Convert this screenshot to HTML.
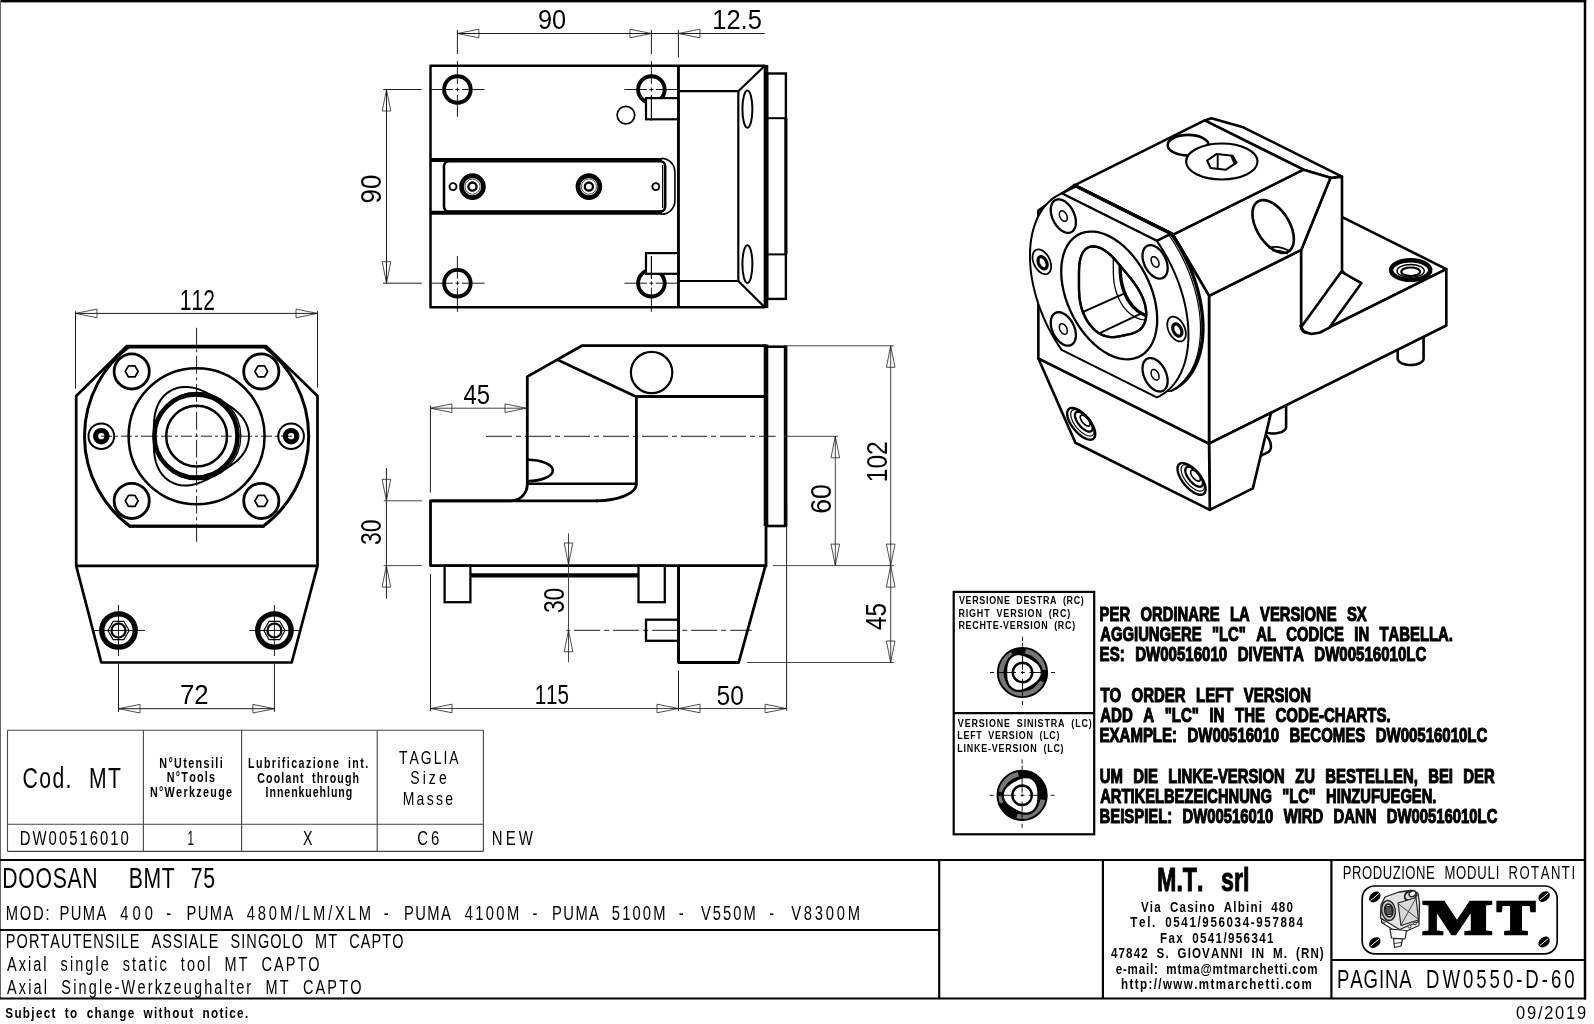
<!DOCTYPE html>
<html><head><meta charset="utf-8"><title>DW0550-D-60</title>
<style>html,body{margin:0;padding:0;background:#fff;overflow:hidden}svg{display:block}text{font-kerning:none}</style></head>
<body><svg width="1594" height="1024" viewBox="0 0 1594 1024" stroke-linecap="butt">
<rect width="1594" height="1024" fill="#fff"/>
<g opacity="0.999">
<rect x="0" y="0" width="1586.2" height="2.4" fill="#000"/>
<line x1="0.5" y1="0" x2="0.5" y2="999" stroke="#666" stroke-width="1" />
<line x1="1585" y1="0" x2="1585" y2="999.6" stroke="#000" stroke-width="2.5" />
<line x1="0" y1="860" x2="1586" y2="860" stroke="#000" stroke-width="2.2" />
<line x1="0" y1="930" x2="939" y2="930" stroke="#000" stroke-width="2.2" />
<line x1="0" y1="998.5" x2="1586" y2="998.5" stroke="#000" stroke-width="2.2" />
<line x1="939.2" y1="860" x2="939.2" y2="998.5" stroke="#000" stroke-width="2.2" />
<line x1="1102.9" y1="860" x2="1102.9" y2="998.5" stroke="#000" stroke-width="2.2" />
<line x1="1331.4" y1="860" x2="1331.4" y2="998.5" stroke="#000" stroke-width="2.2" />
<line x1="1331.4" y1="960" x2="1585" y2="960" stroke="#000" stroke-width="2.2" />
<line x1="7.5" y1="730.3" x2="7.5" y2="851.4" stroke="#444" stroke-width="1.1" />
<line x1="143.4" y1="730.3" x2="143.4" y2="851.4" stroke="#444" stroke-width="1.1" />
<line x1="241.6" y1="730.3" x2="241.6" y2="851.4" stroke="#444" stroke-width="1.1" />
<line x1="377.2" y1="730.3" x2="377.2" y2="851.4" stroke="#444" stroke-width="1.1" />
<line x1="483.4" y1="730.3" x2="483.4" y2="851.4" stroke="#444" stroke-width="1.1" />
<line x1="7.5" y1="730.3" x2="483.4" y2="730.3" stroke="#444" stroke-width="1.1" />
<line x1="7.5" y1="824.3" x2="483.4" y2="824.3" stroke="#444" stroke-width="1.1" />
<line x1="7.5" y1="851.4" x2="483.4" y2="851.4" stroke="#444" stroke-width="1.1" />
<text transform="translate(22.42 787.5) scale(0.7400 1)" font-family="'Liberation Sans', sans-serif" font-size="28.63" letter-spacing="1.95" word-spacing="11.74" fill="#000" xml:space="preserve">Cod. MT</text>
<text transform="translate(159.28 767.8) scale(0.7600 1)" font-family="'Liberation Sans', sans-serif" font-size="14.24" font-weight="bold" letter-spacing="1.79" word-spacing="4.27" fill="#000" xml:space="preserve">N°Utensili</text>
<text transform="translate(166.78 782.4) scale(0.7600 1)" font-family="'Liberation Sans', sans-serif" font-size="14.24" font-weight="bold" letter-spacing="1.59" word-spacing="4.27" fill="#000" xml:space="preserve">N°Tools</text>
<text transform="translate(149.88 797) scale(0.7600 1)" font-family="'Liberation Sans', sans-serif" font-size="14.24" font-weight="bold" letter-spacing="1.72" word-spacing="4.27" fill="#000" xml:space="preserve">N°Werkzeuge</text>
<text transform="translate(248.09 768.3) scale(0.7600 1)" font-family="'Liberation Sans', sans-serif" font-size="13.95" font-weight="bold" letter-spacing="1.92" word-spacing="4.19" fill="#000" xml:space="preserve">Lubrificazione int.</text>
<text transform="translate(257.27 782.8) scale(0.7600 1)" font-family="'Liberation Sans', sans-serif" font-size="13.95" font-weight="bold" letter-spacing="1.52" word-spacing="4.19" fill="#000" xml:space="preserve">Coolant through</text>
<text transform="translate(265.59 797) scale(0.7600 1)" font-family="'Liberation Sans', sans-serif" font-size="13.95" font-weight="bold" letter-spacing="1.24" word-spacing="4.19" fill="#000" xml:space="preserve">Innenkuehlung</text>
<text transform="translate(398.89 763.6) scale(0.7400 1)" font-family="'Liberation Sans', sans-serif" font-size="18.9" letter-spacing="2.73" word-spacing="7.75" fill="#000" xml:space="preserve">TAGLIA</text>
<text transform="translate(410.27 784.3) scale(0.7400 1)" font-family="'Liberation Sans', sans-serif" font-size="18.9" letter-spacing="4.17" word-spacing="7.75" fill="#000" xml:space="preserve">Size</text>
<text transform="translate(402.65 804.5) scale(0.7400 1)" font-family="'Liberation Sans', sans-serif" font-size="18.9" letter-spacing="3.14" word-spacing="7.75" fill="#000" xml:space="preserve">Masse</text>
<text transform="translate(19.77 845.3) scale(0.7400 1)" font-family="'Liberation Sans', sans-serif" font-size="20.2" letter-spacing="2.67" word-spacing="8.28" fill="#000" xml:space="preserve">DW00516010</text>
<text transform="translate(187.62 845.3) scale(0.5740 1)" font-family="'Liberation Sans', sans-serif" font-size="20.2" letter-spacing="0" word-spacing="8.28" fill="#000" xml:space="preserve">1</text>
<text transform="translate(302.88 845.3) scale(0.7065 1)" font-family="'Liberation Sans', sans-serif" font-size="20.2" letter-spacing="0" word-spacing="8.28" fill="#000" xml:space="preserve">X</text>
<text transform="translate(417.34 845.3) scale(0.7400 1)" font-family="'Liberation Sans', sans-serif" font-size="20.2" letter-spacing="3.79" word-spacing="8.28" fill="#000" xml:space="preserve">C6</text>
<text transform="translate(491.77 845.3) scale(0.7400 1)" font-family="'Liberation Sans', sans-serif" font-size="20.2" letter-spacing="4.26" word-spacing="8.28" fill="#000" xml:space="preserve">NEW</text>
<text transform="translate(2.36 887.5) scale(0.7400 1)" font-family="'Liberation Sans', sans-serif" font-size="28.63" letter-spacing="0.92" word-spacing="11.74" fill="#000" xml:space="preserve">DOOSAN  BMT 75</text>
<text transform="translate(0 919.9) scale(0.7000 1)" font-family="'Liberation Sans', sans-serif" font-size="21.08" fill="#000"><tspan x="8.13" letter-spacing="2.59">MOD:</tspan> <tspan x="84.99" letter-spacing="2.01">PUMA</tspan> <tspan x="171.8" letter-spacing="5.79">400</tspan> <tspan x="237.63" letter-spacing="0">-</tspan> <tspan x="266.41" letter-spacing="2.01">PUMA</tspan> <tspan x="352.52" letter-spacing="4.06">480M/LM/XLM</tspan> <tspan x="548.35" letter-spacing="0">-</tspan> <tspan x="577.13" letter-spacing="2.06">PUMA</tspan> <tspan x="663.8" letter-spacing="3.37">4100M</tspan> <tspan x="760.78" letter-spacing="0">-</tspan> <tspan x="788.7" letter-spacing="2.01">PUMA</tspan> <tspan x="874.01" letter-spacing="3.07">5100M</tspan> <tspan x="969.78" letter-spacing="0">-</tspan> <tspan x="1001.34" letter-spacing="2.9">V550M</tspan> <tspan x="1099.06" letter-spacing="0">-</tspan> <tspan x="1130.34" letter-spacing="3.98">V8300M</tspan></text>
<text transform="translate(5.81 948.1) scale(0.7400 1)" font-family="'Liberation Sans', sans-serif" font-size="19.62" letter-spacing="1.43" word-spacing="8.05" fill="#000" xml:space="preserve">PORTAUTENSILE ASSIALE SINGOLO MT CAPTO</text>
<text transform="translate(6.97 971.3) scale(0.7400 1)" font-family="'Liberation Sans', sans-serif" font-size="19.62" letter-spacing="2.75" word-spacing="8.05" fill="#000" xml:space="preserve">Axial single static tool MT CAPTO</text>
<text transform="translate(6.97 994.2) scale(0.7400 1)" font-family="'Liberation Sans', sans-serif" font-size="19.62" letter-spacing="2.91" word-spacing="8.05" fill="#000" xml:space="preserve">Axial Single-Werkzeughalter MT CAPTO</text>
<text transform="translate(5.26 1018.3) scale(0.7600 1)" font-family="'Liberation Sans', sans-serif" font-size="15.41" font-weight="bold" letter-spacing="1.74" word-spacing="4.62" fill="#000" xml:space="preserve">Subject to change without notice.</text>
<text transform="translate(1516.06 1019.3) scale(0.8600 1)" font-family="'Liberation Sans', sans-serif" font-size="19.19" letter-spacing="2.03" word-spacing="7.87" fill="#000" xml:space="preserve">09/2019</text>
<text transform="translate(1157.04 891) scale(0.6900 1)" font-family="'Liberation Sans', sans-serif" font-size="33.72" font-weight="bold" letter-spacing="0" word-spacing="15.88" fill="#000" stroke="#000" stroke-width="1" xml:space="preserve">M.T. srl</text>
<text transform="translate(1140.92 911.8) scale(0.7600 1)" font-family="'Liberation Sans', sans-serif" font-size="15.26" font-weight="bold" letter-spacing="1.6" word-spacing="4.58" fill="#000" xml:space="preserve">Via Casino Albini 480</text>
<text transform="translate(1130.37 927) scale(0.7600 1)" font-family="'Liberation Sans', sans-serif" font-size="15.26" font-weight="bold" letter-spacing="2.14" word-spacing="4.58" fill="#000" xml:space="preserve">Tel. 0541/956034-957884</text>
<text transform="translate(1160.12 942.7) scale(0.7600 1)" font-family="'Liberation Sans', sans-serif" font-size="15.26" font-weight="bold" letter-spacing="1.78" word-spacing="4.58" fill="#000" xml:space="preserve">Fax 0541/956341</text>
<text transform="translate(1111.02 958.1) scale(0.7600 1)" font-family="'Liberation Sans', sans-serif" font-size="15.26" font-weight="bold" letter-spacing="1.45" word-spacing="4.58" fill="#000" xml:space="preserve">47842 S. GIOVANNI IN M. (RN)</text>
<text transform="translate(1115.65 973.9) scale(0.7600 1)" font-family="'Liberation Sans', sans-serif" font-size="15.26" font-weight="bold" letter-spacing="1.08" word-spacing="4.58" fill="#000" xml:space="preserve">e-mail: mtma@mtmarchetti.com</text>
<text transform="translate(1120.89 989) scale(0.7600 1)" font-family="'Liberation Sans', sans-serif" font-size="15.26" font-weight="bold" letter-spacing="1.85" word-spacing="4.58" fill="#000" xml:space="preserve">http://www.mtmarchetti.com</text>
<text transform="translate(0 879) scale(0.7400 1)" font-family="'Liberation Sans', sans-serif" font-size="17.73" fill="#000"><tspan x="1814.63" letter-spacing="0.67">PRODUZIONE</tspan> <tspan x="1951.92" letter-spacing="1.07">MODULI</tspan> <tspan x="2038.41" letter-spacing="2.05">ROTANTI</tspan></text>
<text transform="translate(0 988.2) scale(0.7400 1)" font-family="'Liberation Sans', sans-serif" font-size="25.15" fill="#000"><tspan x="1806.86" letter-spacing="1.15">PAGINA</tspan> <tspan x="1927.13" letter-spacing="4">DW0550-D-60</tspan></text>
<rect x="767.2" y="73.5" width="18.7" height="225.4" rx="0" fill="#fff" stroke="#000" stroke-width="2.4"/>
<line x1="785.9" y1="118" x2="785.9" y2="254.5" stroke="#000" stroke-width="3" />
<line x1="767" y1="118.2" x2="786" y2="118.2" stroke="#000" stroke-width="2" />
<line x1="767" y1="254.4" x2="786" y2="254.4" stroke="#000" stroke-width="2" />
<path d="M430.5,65.7 L764.9,65.7 L764.9,307.2 L430.5,307.2 Z" fill="#fff" stroke="#000" stroke-width="2.5" stroke-linejoin="round" />
<line x1="766.3" y1="65" x2="766.3" y2="308" stroke="#000" stroke-width="4" />
<line x1="678.4" y1="65.7" x2="678.4" y2="307.2" stroke="#000" stroke-width="2.5" />
<line x1="764.7" y1="65.7" x2="738.3" y2="91.2" stroke="#000" stroke-width="2.2" />
<line x1="764.7" y1="307.2" x2="738.3" y2="281" stroke="#000" stroke-width="2.2" />
<line x1="678.4" y1="91.2" x2="738.3" y2="91.2" stroke="#000" stroke-width="2.2" />
<line x1="678.4" y1="281" x2="738.3" y2="281" stroke="#000" stroke-width="2.2" />
<line x1="738.3" y1="91.2" x2="738.3" y2="281" stroke="#000" stroke-width="2.2" />
<ellipse cx="747.4" cy="109.1" rx="5" ry="18.6" fill="none" stroke="#000" stroke-width="2" />
<ellipse cx="747.4" cy="264.1" rx="5" ry="18.8" fill="none" stroke="#000" stroke-width="2" />
<line x1="430.5" y1="160" x2="662" y2="160" stroke="#000" stroke-width="4" />
<line x1="430.5" y1="212.8" x2="662" y2="212.8" stroke="#000" stroke-width="4" />
<path d="M661.4,158.4 A13.5,13.5 0 0 1 674.9,172 L674.9,200.8 A13.5,13.5 0 0 1 661.4,214.3" fill="none" stroke="#000" stroke-width="1.6" stroke-linejoin="round" />
<rect x="444" y="161.3" width="221.2" height="50.2" rx="5" fill="none" stroke="#000" stroke-width="2.6"/>
<line x1="662.6" y1="165" x2="662.6" y2="208" stroke="#000" stroke-width="1.2" />
<circle cx="472.5" cy="186.6" r="11" fill="#fff" stroke="#000" stroke-width="4.6" />
<circle cx="472.5" cy="186.6" r="7.6" fill="none" stroke="#000" stroke-width="0.7" />
<circle cx="472.5" cy="186.6" r="4.1" fill="none" stroke="#000" stroke-width="2.3" />
<circle cx="588.9" cy="186.6" r="11" fill="#fff" stroke="#000" stroke-width="4.6" />
<circle cx="588.9" cy="186.6" r="7.6" fill="none" stroke="#000" stroke-width="0.7" />
<circle cx="588.9" cy="186.6" r="4.1" fill="none" stroke="#000" stroke-width="2.3" />
<circle cx="453" cy="186.6" r="3.5" fill="none" stroke="#000" stroke-width="1.9" />
<circle cx="655.8" cy="186.6" r="3.5" fill="none" stroke="#000" stroke-width="1.9" />
<circle cx="457.4" cy="89.5" r="13.3" fill="none" stroke="#000" stroke-width="3.9" />
<circle cx="651.4" cy="89.5" r="13.3" fill="none" stroke="#000" stroke-width="3.9" />
<circle cx="457.4" cy="283.2" r="13.3" fill="none" stroke="#000" stroke-width="3.9" />
<circle cx="651.4" cy="283.2" r="13.3" fill="none" stroke="#000" stroke-width="3.9" />
<rect x="646" y="98.1" width="32.4" height="21.2" rx="0" fill="#fff" stroke="#000" stroke-width="2.2"/>
<rect x="646" y="253.1" width="32.4" height="20.7" rx="0" fill="#fff" stroke="#000" stroke-width="2.2"/>
<line x1="678.4" y1="65.7" x2="678.4" y2="307.2" stroke="#000" stroke-width="2.5" />
<circle cx="625.9" cy="115.1" r="8.8" fill="none" stroke="#000" stroke-width="1.7" />
<line x1="455.4" y1="89.5" x2="459.4" y2="89.5" stroke="#000" stroke-width="0.9" />
<line x1="457.4" y1="87.5" x2="457.4" y2="91.5" stroke="#000" stroke-width="0.9" />
<line x1="431.6" y1="89.5" x2="452.9" y2="89.5" stroke="#000" stroke-width="0.9" />
<line x1="461.9" y1="89.5" x2="484.6" y2="89.5" stroke="#000" stroke-width="0.9" />
<line x1="457.4" y1="61" x2="457.4" y2="84" stroke="#000" stroke-width="0.9" />
<line x1="457.4" y1="95" x2="457.4" y2="116.7" stroke="#000" stroke-width="0.9" />
<line x1="649.4" y1="89.5" x2="653.4" y2="89.5" stroke="#000" stroke-width="0.9" />
<line x1="651.4" y1="87.5" x2="651.4" y2="91.5" stroke="#000" stroke-width="0.9" />
<line x1="624.4" y1="89.5" x2="646.9" y2="89.5" stroke="#000" stroke-width="0.9" />
<line x1="655.9" y1="89.5" x2="678.6" y2="89.5" stroke="#000" stroke-width="0.9" />
<line x1="651.4" y1="61" x2="651.4" y2="84" stroke="#000" stroke-width="0.9" />
<line x1="651.4" y1="95" x2="651.4" y2="120.5" stroke="#000" stroke-width="0.9" />
<line x1="455.4" y1="283.2" x2="459.4" y2="283.2" stroke="#000" stroke-width="0.9" />
<line x1="457.4" y1="281.2" x2="457.4" y2="285.2" stroke="#000" stroke-width="0.9" />
<line x1="431.6" y1="283.2" x2="452.9" y2="283.2" stroke="#000" stroke-width="0.9" />
<line x1="461.9" y1="283.2" x2="484.6" y2="283.2" stroke="#000" stroke-width="0.9" />
<line x1="457.4" y1="256" x2="457.4" y2="278.7" stroke="#000" stroke-width="0.9" />
<line x1="457.4" y1="287.7" x2="457.4" y2="311.8" stroke="#000" stroke-width="0.9" />
<line x1="649.4" y1="283.2" x2="653.4" y2="283.2" stroke="#000" stroke-width="0.9" />
<line x1="651.4" y1="281.2" x2="651.4" y2="285.2" stroke="#000" stroke-width="0.9" />
<line x1="624.4" y1="283.2" x2="646.9" y2="283.2" stroke="#000" stroke-width="0.9" />
<line x1="655.9" y1="283.2" x2="678.6" y2="283.2" stroke="#000" stroke-width="0.9" />
<line x1="651.4" y1="256" x2="651.4" y2="278.7" stroke="#000" stroke-width="0.9" />
<line x1="651.4" y1="287.7" x2="651.4" y2="311.8" stroke="#000" stroke-width="0.9" />
<line x1="651.4" y1="96" x2="651.4" y2="120.5" stroke="#000" stroke-width="0.9" />
<line x1="651.4" y1="256" x2="651.4" y2="278.7" stroke="#000" stroke-width="0.9" />
<line x1="457.4" y1="33.5" x2="764.7" y2="33.5" stroke="#000" stroke-width="0.9" />
<line x1="457.4" y1="30" x2="457.4" y2="54" stroke="#000" stroke-width="0.9" />
<line x1="651.4" y1="30" x2="651.4" y2="54" stroke="#000" stroke-width="0.9" />
<line x1="678.4" y1="30" x2="678.4" y2="57.5" stroke="#000" stroke-width="0.9" />
<path d="M457.4,33.5 L478.9,29.2 L478.9,37.8 Z" fill="none" stroke="#222" stroke-width="0.8" stroke-linejoin="round" />
<path d="M651.4,33.5 L629.9,29.2 L629.9,37.8 Z" fill="none" stroke="#222" stroke-width="0.8" stroke-linejoin="round" />
<path d="M678.4,33.5 L699.9,29.2 L699.9,37.8 Z" fill="none" stroke="#222" stroke-width="0.8" stroke-linejoin="round" />
<text transform="translate(538.01 28.9) scale(0.8938 1)" font-family="'Liberation Sans', sans-serif" font-size="28.34" letter-spacing="0" word-spacing="11.62" fill="#000" xml:space="preserve">90</text>
<text transform="translate(712.26 28.8) scale(0.8994 1)" font-family="'Liberation Sans', sans-serif" font-size="28.34" letter-spacing="0" word-spacing="11.62" fill="#000" xml:space="preserve">12.5</text>
<line x1="386.5" y1="89.5" x2="386.5" y2="283.2" stroke="#000" stroke-width="0.9" />
<line x1="383.3" y1="89.5" x2="421.8" y2="89.5" stroke="#000" stroke-width="0.9" />
<line x1="383" y1="283.2" x2="421.8" y2="283.2" stroke="#000" stroke-width="0.9" />
<path d="M386.5,89.5 L382.2,111 L390.8,111 Z" fill="none" stroke="#222" stroke-width="0.8" stroke-linejoin="round" />
<path d="M386.5,283.2 L382.2,261.7 L390.8,261.7 Z" fill="none" stroke="#222" stroke-width="0.8" stroke-linejoin="round" />
<text transform="translate(381.1 202.3) rotate(-90) translate(-1.21 0) scale(0.8915 1)" font-family="'Liberation Sans', sans-serif" font-size="29.07" letter-spacing="0" word-spacing="11.92" fill="#000" xml:space="preserve">90</text>
<path d="M126.4,346.4 L266.5,346.4 L317.5,396 L317.5,565.8 L291.7,662.5 L101.3,662.5 L76.2,565.8 L76.2,396 Z" fill="#fff" stroke="#000" stroke-width="2.7" stroke-linejoin="round" />
<line x1="76.2" y1="565.8" x2="317.5" y2="565.8" stroke="#000" stroke-width="2.7" />
<line x1="126.4" y1="346.6" x2="266.5" y2="346.6" stroke="#000" stroke-width="3.6" />
<path d="M263.7,346.4 L129.5,346.4 A112,112 0 0 0 129.9,526.2 L263.3,526.2 A112,112 0 0 0 263.7,346.4" fill="none" stroke="#000" stroke-width="3" stroke-linejoin="round" />
<line x1="128.6" y1="526.2" x2="264.8" y2="526.2" stroke="#000" stroke-width="2.8" />
<circle cx="196.6" cy="436.2" r="68" fill="none" stroke="#000" stroke-width="2.5" />
<path d="M249,436.2 L248.77,439.85 L248.08,443.43 L246.96,446.9 L245.44,450.21 L243.58,453.3 L241.44,456.16 L239.07,458.78 L236.54,461.16 L233.91,463.31 L231.23,465.25 L228.53,467.03 L225.85,468.69 L223.21,470.25 L220.59,471.77 L218,473.27 L215.41,474.76 L212.79,476.27 L210.11,477.78 L207.34,479.27 L204.45,480.71 L201.42,482.06 L198.24,483.27 L194.92,484.27 L191.47,485.01 L187.92,485.44 L184.31,485.5 L180.69,485.16 L177.13,484.4 L173.68,483.2 L170.4,481.58 L167.36,479.55 L164.59,477.16 L162.15,474.46 L160.05,471.5 L158.3,468.34 L156.89,465.05 L155.81,461.69 L155.01,458.31 L154.47,454.96 L154.13,451.66 L153.93,448.44 L153.84,445.29 L153.81,442.21 L153.8,439.19 L153.8,436.2 L153.8,433.21 L153.81,430.19 L153.84,427.11 L153.93,423.96 L154.13,420.74 L154.47,417.44 L155.01,414.09 L155.81,410.71 L156.89,407.35 L158.3,404.06 L160.05,400.9 L162.15,397.94 L164.59,395.24 L167.36,392.85 L170.4,390.82 L173.68,389.2 L177.13,388 L180.69,387.24 L184.31,386.9 L187.92,386.96 L191.47,387.39 L194.92,388.13 L198.24,389.13 L201.42,390.34 L204.45,391.69 L207.34,393.13 L210.11,394.62 L212.79,396.13 L215.41,397.64 L218,399.13 L220.59,400.63 L223.21,402.15 L225.85,403.71 L228.53,405.37 L231.23,407.15 L233.91,409.09 L236.54,411.24 L239.07,413.62 L241.44,416.24 L243.58,419.1 L245.44,422.19 L246.96,425.5 L248.08,428.97 L248.77,432.55 L249,436.2 Z" fill="none" stroke="#000" stroke-width="2" stroke-linejoin="round" />
<circle cx="196" cy="436" r="41.6" fill="none" stroke="#000" stroke-width="4.6" />
<circle cx="197.2" cy="436.1" r="43.6" fill="none" stroke="#000" stroke-width="1.3" />
<circle cx="196.6" cy="436.2" r="30.4" fill="none" stroke="#000" stroke-width="2.5" />
<circle cx="131.7" cy="371.4" r="17.6" fill="none" stroke="#000" stroke-width="2.8" />
<path d="M138.1,371.4 L134.9,376.94 L128.5,376.94 L125.3,371.4 L128.5,365.86 L134.9,365.86 Z" fill="none" stroke="#000" stroke-width="1.8" stroke-linejoin="round" />
<circle cx="261.3" cy="371.4" r="17.6" fill="none" stroke="#000" stroke-width="2.8" />
<path d="M267.7,371.4 L264.5,376.94 L258.1,376.94 L254.9,371.4 L258.1,365.86 L264.5,365.86 Z" fill="none" stroke="#000" stroke-width="1.8" stroke-linejoin="round" />
<circle cx="131.7" cy="500.9" r="17.6" fill="none" stroke="#000" stroke-width="2.8" />
<path d="M138.1,500.9 L134.9,506.44 L128.5,506.44 L125.3,500.9 L128.5,495.36 L134.9,495.36 Z" fill="none" stroke="#000" stroke-width="1.8" stroke-linejoin="round" />
<circle cx="261.3" cy="500.9" r="17.6" fill="none" stroke="#000" stroke-width="2.8" />
<path d="M267.7,500.9 L264.5,506.44 L258.1,506.44 L254.9,500.9 L258.1,495.36 L264.5,495.36 Z" fill="none" stroke="#000" stroke-width="1.8" stroke-linejoin="round" />
<circle cx="101.3" cy="436.2" r="12.8" fill="none" stroke="#000" stroke-width="2" />
<circle cx="101.3" cy="436.2" r="5.7" fill="none" stroke="#000" stroke-width="5.2" />
<circle cx="291.1" cy="436.2" r="12.8" fill="none" stroke="#000" stroke-width="2" />
<circle cx="291.1" cy="436.2" r="5.7" fill="none" stroke="#000" stroke-width="5.2" />
<circle cx="118.5" cy="630.5" r="16.7" fill="none" stroke="#000" stroke-width="5.3" />
<path d="M129.1,630.5 L123.8,639.68 L113.2,639.68 L107.9,630.5 L113.2,621.32 L123.8,621.32 Z" fill="none" stroke="#000" stroke-width="1.2" stroke-linejoin="round" />
<circle cx="118.5" cy="630.5" r="7" fill="none" stroke="#000" stroke-width="2.2" />
<line x1="93.4" y1="630.5" x2="144.9" y2="630.5" stroke="#000" stroke-width="0.9" />
<line x1="118.5" y1="605" x2="118.5" y2="656" stroke="#000" stroke-width="0.9" />
<circle cx="274.4" cy="630.5" r="16.7" fill="none" stroke="#000" stroke-width="5.3" />
<path d="M285,630.5 L279.7,639.68 L269.1,639.68 L263.8,630.5 L269.1,621.32 L279.7,621.32 Z" fill="none" stroke="#000" stroke-width="1.2" stroke-linejoin="round" />
<circle cx="274.4" cy="630.5" r="7" fill="none" stroke="#000" stroke-width="2.2" />
<line x1="249.3" y1="630.5" x2="300.8" y2="630.5" stroke="#000" stroke-width="0.9" />
<line x1="274.4" y1="605" x2="274.4" y2="656" stroke="#000" stroke-width="0.9" />
<line x1="196.6" y1="327.8" x2="196.6" y2="544.4" stroke="#000" stroke-width="0.9" stroke-dasharray="18 3.5 3 3.5" stroke-dashoffset="0"/>
<line x1="98" y1="436.2" x2="294" y2="436.2" stroke="#000" stroke-width="0.9" stroke-dasharray="11 3 3 3" stroke-dashoffset="-3"/>
<line x1="75.5" y1="313.4" x2="317.5" y2="313.4" stroke="#000" stroke-width="0.9" />
<line x1="75.5" y1="311.3" x2="75.5" y2="388.6" stroke="#000" stroke-width="0.9" />
<line x1="317.5" y1="311.3" x2="317.5" y2="387.6" stroke="#000" stroke-width="0.9" />
<path d="M75.5,313.4 L97,309.1 L97,317.7 Z" fill="none" stroke="#222" stroke-width="0.8" stroke-linejoin="round" />
<path d="M317.5,313.4 L296,309.1 L296,317.7 Z" fill="none" stroke="#222" stroke-width="0.8" stroke-linejoin="round" />
<text transform="translate(179.69 309.9) scale(0.7179 1)" font-family="'Liberation Sans', sans-serif" font-size="29.36" letter-spacing="0" word-spacing="12.04" fill="#000" xml:space="preserve">112</text>
<line x1="118.5" y1="708.7" x2="274.4" y2="708.7" stroke="#000" stroke-width="0.9" />
<line x1="118.5" y1="663.9" x2="118.5" y2="711.9" stroke="#000" stroke-width="0.9" />
<line x1="274.4" y1="663.9" x2="274.4" y2="711.9" stroke="#000" stroke-width="0.9" />
<path d="M118.5,708.7 L140,704.4 L140,713 Z" fill="none" stroke="#222" stroke-width="0.8" stroke-linejoin="round" />
<path d="M274.4,708.7 L252.9,704.4 L252.9,713 Z" fill="none" stroke="#222" stroke-width="0.8" stroke-linejoin="round" />
<text transform="translate(179.98 704.4) scale(0.9123 1)" font-family="'Liberation Sans', sans-serif" font-size="28.2" letter-spacing="0" word-spacing="11.56" fill="#000" xml:space="preserve">72</text>
<line x1="766" y1="346.7" x2="786" y2="346.7" stroke="#000" stroke-width="2.6" />
<line x1="766" y1="526" x2="786.8" y2="526" stroke="#000" stroke-width="2.6" />
<line x1="785.6" y1="345.5" x2="785.6" y2="527" stroke="#000" stroke-width="3.6" />
<rect x="444.6" y="565.6" width="25.8" height="36.6" rx="0" fill="#fff" stroke="#000" stroke-width="2.3"/>
<rect x="638.5" y="565.6" width="26.3" height="36.6" rx="0" fill="#fff" stroke="#000" stroke-width="2.3"/>
<line x1="470.4" y1="575.4" x2="638.5" y2="575.4" stroke="#000" stroke-width="4.2" />
<path d="M678.5,565.6 L678.5,662.5 L738.7,662.5 L765.5,565.6" fill="none" stroke="#000" stroke-width="2.8" stroke-linejoin="round" />
<rect x="646" y="619.7" width="32.5" height="21.1" rx="0" fill="#fff" stroke="#000" stroke-width="2.3"/>
<line x1="678.5" y1="565.6" x2="678.5" y2="662.5" stroke="#000" stroke-width="2.8" />
<path d="M511,500.8 L430.5,500.8 L430.5,565.6 L765.8,565.6" fill="none" stroke="#000" stroke-width="2.8" stroke-linejoin="round" />
<line x1="430.5" y1="500.8" x2="598" y2="500.8" stroke="#000" stroke-width="2.8" />
<path d="M511,500.8 A16.3,16.3 0 0 0 527.3,484.5" fill="none" stroke="#000" stroke-width="2.8" stroke-linejoin="round" />
<path d="M527.3,484.7 L527.3,376.6 L581.8,345.7 L766,345.7" fill="none" stroke="#000" stroke-width="2.8" stroke-linejoin="round" />
<line x1="557.9" y1="359.9" x2="635.8" y2="396.4" stroke="#000" stroke-width="2.8" />
<line x1="635.5" y1="396.4" x2="766" y2="396.4" stroke="#000" stroke-width="3" />
<line x1="636.4" y1="396.4" x2="636.4" y2="484.4" stroke="#000" stroke-width="2.8" />
<path d="M636.4,484 A40.2,16.8 0 0 1 596.2,500.8" fill="none" stroke="#000" stroke-width="2.8" stroke-linejoin="round" />
<line x1="527.3" y1="483.8" x2="636.4" y2="483.8" stroke="#000" stroke-width="2.4" />
<path d="M527.3,459.7 A25.4,10.7 0 0 1 527.3,481.2" fill="none" stroke="#000" stroke-width="2.6" stroke-linejoin="round" />
<circle cx="651.6" cy="372.5" r="20.7" fill="none" stroke="#000" stroke-width="2.2" />
<line x1="766" y1="344.5" x2="766" y2="526" stroke="#000" stroke-width="4.6" />
<line x1="766" y1="526" x2="766" y2="566.8" stroke="#000" stroke-width="2.8" />
<line x1="486" y1="436.3" x2="775.6" y2="436.3" stroke="#000" stroke-width="0.9" stroke-dasharray="26 4 5 4" stroke-dashoffset="0"/>
<line x1="566.2" y1="630.3" x2="751.8" y2="630.3" stroke="#000" stroke-width="0.9" stroke-dasharray="26 4 5 4" stroke-dashoffset="-8"/>
<line x1="430.4" y1="408.2" x2="527.3" y2="408.2" stroke="#333" stroke-width="0.9" />
<line x1="430.4" y1="405.6" x2="430.4" y2="492.6" stroke="#000" stroke-width="0.9" />
<path d="M430.4,408.2 L451.9,403.9 L451.9,412.5 Z" fill="none" stroke="#222" stroke-width="0.8" stroke-linejoin="round" />
<path d="M526.5,408.2 L505,403.9 L505,412.5 Z" fill="none" stroke="#222" stroke-width="0.8" stroke-linejoin="round" />
<text transform="translate(463.45 403.8) scale(0.8509 1)" font-family="'Liberation Sans', sans-serif" font-size="28.05" letter-spacing="0" word-spacing="11.5" fill="#000" xml:space="preserve">45</text>
<line x1="386.4" y1="468" x2="386.4" y2="598.7" stroke="#000" stroke-width="0.9" />
<line x1="383.7" y1="500.8" x2="422" y2="500.8" stroke="#333" stroke-width="0.9" />
<line x1="383.7" y1="565.6" x2="422" y2="565.6" stroke="#333" stroke-width="0.9" />
<path d="M386.4,500.8 L382.1,479.3 L390.7,479.3 Z" fill="none" stroke="#222" stroke-width="0.8" stroke-linejoin="round" />
<path d="M386.4,565.6 L382.1,587.1 L390.7,587.1 Z" fill="none" stroke="#222" stroke-width="0.8" stroke-linejoin="round" />
<text transform="translate(381.3 544.2) rotate(-90) translate(-0.88 0) scale(0.7792 1)" font-family="'Liberation Sans', sans-serif" font-size="29.51" letter-spacing="0" word-spacing="12.1" fill="#000" xml:space="preserve">30</text>
<line x1="568.5" y1="533.3" x2="568.5" y2="662.3" stroke="#333" stroke-width="0.9" />
<path d="M568.5,564.5 L564.2,543 L572.8,543 Z" fill="none" stroke="#222" stroke-width="0.8" stroke-linejoin="round" />
<path d="M568.5,630.3 L564.2,651.8 L572.8,651.8 Z" fill="none" stroke="#222" stroke-width="0.8" stroke-linejoin="round" />
<text transform="translate(563.6 612.2) rotate(-90) translate(-0.87 0) scale(0.7727 1)" font-family="'Liberation Sans', sans-serif" font-size="29.51" letter-spacing="0" word-spacing="12.1" fill="#000" xml:space="preserve">30</text>
<line x1="835.3" y1="436.3" x2="835.3" y2="565.6" stroke="#333" stroke-width="0.9" />
<line x1="784" y1="436.3" x2="838" y2="436.3" stroke="#333" stroke-width="0.9" />
<path d="M835.3,436.3 L831,457.8 L839.6,457.8 Z" fill="none" stroke="#222" stroke-width="0.8" stroke-linejoin="round" />
<path d="M835.3,565.6 L831,544.1 L839.6,544.1 Z" fill="none" stroke="#222" stroke-width="0.8" stroke-linejoin="round" />
<text transform="translate(830.6 512.5) rotate(-90) translate(-1.35 0) scale(0.9016 1)" font-family="'Liberation Sans', sans-serif" font-size="29.51" letter-spacing="0" word-spacing="12.1" fill="#000" xml:space="preserve">60</text>
<line x1="890.7" y1="345.8" x2="890.7" y2="662.5" stroke="#333" stroke-width="0.9" />
<line x1="786" y1="345.8" x2="893.9" y2="345.8" stroke="#333" stroke-width="0.9" />
<line x1="773" y1="565.6" x2="893.9" y2="565.6" stroke="#333" stroke-width="0.9" />
<line x1="746.9" y1="662.5" x2="893.9" y2="662.5" stroke="#333" stroke-width="0.9" />
<path d="M890.7,345.8 L886.4,367.3 L895,367.3 Z" fill="none" stroke="#222" stroke-width="0.8" stroke-linejoin="round" />
<path d="M890.7,565.6 L886.4,544.1 L895,544.1 Z" fill="none" stroke="#222" stroke-width="0.8" stroke-linejoin="round" />
<path d="M890.7,565.6 L886.4,587.1 L895,587.1 Z" fill="none" stroke="#222" stroke-width="0.8" stroke-linejoin="round" />
<path d="M890.7,662.5 L886.4,641 L895,641 Z" fill="none" stroke="#222" stroke-width="0.8" stroke-linejoin="round" />
<text transform="translate(886.8 480.3) rotate(-90) translate(-1.87 0) scale(0.8227 1)" font-family="'Liberation Sans', sans-serif" font-size="29.8" letter-spacing="0" word-spacing="12.22" fill="#000" xml:space="preserve">102</text>
<text transform="translate(886 629.4) rotate(-90) translate(-0.56 0) scale(0.8219 1)" font-family="'Liberation Sans', sans-serif" font-size="29.51" letter-spacing="0" word-spacing="12.1" fill="#000" xml:space="preserve">45</text>
<line x1="430.5" y1="708.5" x2="786.6" y2="708.5" stroke="#333" stroke-width="0.9" />
<line x1="430.5" y1="574" x2="430.5" y2="710.8" stroke="#000" stroke-width="0.9" />
<line x1="678.5" y1="670.4" x2="678.5" y2="710.8" stroke="#000" stroke-width="0.9" />
<line x1="786.6" y1="503.7" x2="786.6" y2="710.8" stroke="#000" stroke-width="0.9" />
<path d="M430.5,708.5 L452,704.2 L452,712.8 Z" fill="none" stroke="#222" stroke-width="0.8" stroke-linejoin="round" />
<path d="M678.5,708.5 L657,704.2 L657,712.8 Z" fill="none" stroke="#222" stroke-width="0.8" stroke-linejoin="round" />
<path d="M678.5,708.5 L700,704.2 L700,712.8 Z" fill="none" stroke="#222" stroke-width="0.8" stroke-linejoin="round" />
<path d="M786.6,708.5 L765.1,704.2 L765.1,712.8 Z" fill="none" stroke="#222" stroke-width="0.8" stroke-linejoin="round" />
<text transform="translate(534.63 703.5) scale(0.7396 1)" font-family="'Liberation Sans', sans-serif" font-size="27.91" letter-spacing="0" word-spacing="11.44" fill="#000" xml:space="preserve">115</text>
<text transform="translate(716.62 704.5) scale(0.8764 1)" font-family="'Liberation Sans', sans-serif" font-size="28.05" letter-spacing="0" word-spacing="11.5" fill="#000" xml:space="preserve">50</text>
<path d="M1397.71,326.54 L1397.76,325.98 L1397.91,325.42 L1398.15,324.87 L1398.49,324.34 L1398.93,323.82 L1399.45,323.32 L1400.06,322.84 L1400.74,322.4 L1401.51,321.98 L1402.34,321.6 L1403.24,321.26 L1404.19,320.96 L1405.19,320.7 L1406.23,320.48 L1407.31,320.31 L1408.41,320.19 L1409.53,320.12 L1410.66,320.1 L1411.79,320.12 L1412.91,320.19 L1414.01,320.32 L1415.08,320.49 L1416.13,320.7 L1417.13,320.96 L1418.08,321.27 L1418.97,321.61 L1419.81,321.99 L1420.57,322.4 L1421.26,322.85 L1421.86,323.33 L1422.38,323.83 L1422.81,324.35 L1423.15,324.88 L1423.4,325.43 L1423.54,325.99 L1423.59,326.55 L1423.59,358.53 L1423.54,359.09 L1423.39,359.65 L1423.15,360.2 L1422.81,360.74 L1422.37,361.26 L1421.85,361.76 L1421.25,362.23 L1420.56,362.68 L1419.79,363.09 L1418.96,363.47 L1418.07,363.81 L1417.11,364.12 L1416.11,364.38 L1415.07,364.59 L1413.99,364.76 L1412.89,364.88 L1411.77,364.95 L1410.64,364.98 L1409.51,364.95 L1408.4,364.88 L1407.29,364.76 L1406.22,364.59 L1405.17,364.37 L1404.17,364.11 L1403.22,363.81 L1402.33,363.47 L1401.49,363.09 L1400.73,362.67 L1400.05,362.22 L1399.44,361.75 L1398.92,361.25 L1398.49,360.73 L1398.15,360.19 L1397.91,359.64 L1397.76,359.08 L1397.71,358.52 Z" fill="#fff" stroke="#000" stroke-width="2.6" stroke-linejoin="round" />
<path d="M1260.22,395.02 L1260.27,394.46 L1260.42,393.9 L1260.66,393.35 L1261,392.81 L1261.43,392.29 L1261.96,391.79 L1262.56,391.32 L1263.25,390.87 L1264.01,390.46 L1264.85,390.08 L1265.74,389.74 L1266.7,389.43 L1267.7,389.17 L1268.74,388.96 L1269.82,388.79 L1270.92,388.67 L1272.04,388.6 L1273.17,388.57 L1274.29,388.6 L1275.41,388.67 L1276.52,388.79 L1277.59,388.96 L1278.63,389.18 L1279.64,389.44 L1280.59,389.74 L1281.48,390.08 L1282.31,390.47 L1283.08,390.88 L1283.76,391.33 L1284.37,391.8 L1284.89,392.3 L1285.32,392.82 L1285.66,393.36 L1285.9,393.91 L1286.05,394.47 L1286.1,395.03 L1286.1,427.01 L1286.05,427.57 L1285.9,428.13 L1285.65,428.68 L1285.31,429.21 L1284.88,429.73 L1284.36,430.23 L1283.75,430.71 L1283.07,431.15 L1282.3,431.57 L1281.47,431.95 L1280.57,432.29 L1279.62,432.59 L1278.62,432.85 L1277.58,433.07 L1276.5,433.24 L1275.4,433.36 L1274.28,433.43 L1273.15,433.46 L1272.02,433.43 L1270.9,433.36 L1269.8,433.23 L1268.72,433.06 L1267.68,432.85 L1266.68,432.59 L1265.73,432.29 L1264.83,431.94 L1264,431.56 L1263.24,431.15 L1262.55,430.7 L1261.95,430.22 L1261.43,429.73 L1261,429.21 L1260.66,428.67 L1260.41,428.12 L1260.27,427.56 L1260.22,427 Z" fill="#fff" stroke="#000" stroke-width="2.6" stroke-linejoin="round" />
<path d="M1233.05,450.3 L1233.08,449.51 L1233.17,448.76 L1233.31,448.04 L1233.5,447.37 L1233.75,446.76 L1234.05,446.19 L1234.4,445.69 L1234.8,445.25 L1235.24,444.88 L1235.72,444.57 L1258.61,433.17 L1259.13,432.94 L1259.68,432.78 L1260.25,432.7 L1260.86,432.69 L1261.48,432.76 L1262.11,432.91 L1262.76,433.12 L1263.41,433.41 L1264.06,433.77 L1264.71,434.2 L1265.34,434.69 L1265.96,435.24 L1266.57,435.85 L1267.14,436.51 L1267.69,437.22 L1268.21,437.97 L1268.69,438.75 L1269.13,439.56 L1269.53,440.4 L1269.88,441.25 L1270.18,442.11 L1270.43,442.98 L1270.62,443.85 L1270.76,444.7 L1270.85,445.54 L1270.88,446.36 L1270.85,447.15 L1270.76,447.9 L1270.62,448.62 L1270.43,449.29 L1270.18,449.9 L1269.88,450.47 L1269.53,450.97 L1269.13,451.41 L1268.69,451.78 L1268.21,452.09 L1245.32,463.49 L1244.8,463.72 L1244.25,463.88 L1243.68,463.96 L1243.07,463.97 L1242.45,463.9 L1241.82,463.75 L1241.17,463.54 L1240.52,463.25 L1239.87,462.89 L1239.22,462.46 L1238.59,461.97 L1237.97,461.42 L1237.36,460.81 L1236.79,460.15 L1236.24,459.44 L1235.72,458.69 L1235.24,457.91 L1234.8,457.1 L1234.4,456.26 L1234.05,455.41 L1233.75,454.55 L1233.5,453.68 L1233.31,452.81 L1233.17,451.96 L1233.08,451.12 Z" fill="#fff" stroke="#000" stroke-width="2.6" stroke-linejoin="round" />
<path d="M1129.92,256.41 L1300.6,341.65 L1446.34,269.07 L1275.65,183.83 Z" fill="#fff" stroke="#000" stroke-width="2.6" stroke-linejoin="round" />
<ellipse cx="1410.65" cy="270.12" rx="19.6" ry="9.8" fill="#fff" stroke="#000" stroke-width="4.4" />
<ellipse cx="1410.65" cy="270.92" rx="13.6" ry="6.4" fill="none" stroke="#000" stroke-width="1.4" />
<ellipse cx="1410.65" cy="271.72" rx="9.4" ry="4.2" fill="none" stroke="#000" stroke-width="2" />
<path d="M1209.04,443.68 L1446.34,325.5 L1446.34,269.07 L1328.53,327.74 L1323.79,329.88 L1319.19,331.53 L1314.87,332.62 L1310.97,333.14 L1307.6,333.05 L1304.87,332.37 L1302.86,331.12 L1301.63,329.32 L1301.21,327.05 L1301.21,249.93 L1209.04,295.83 Z" fill="#fff" stroke="#000" stroke-width="2.6" stroke-linejoin="round" />
<path d="M1340.9,271.6 L1361.5,283.1 L1329,327.9 L1320,332.5 L1311.4,334 L1304,331.5 L1300.5,326.1 Z" fill="#fff" stroke="#000" stroke-width="2.6" stroke-linejoin="round" />
<path d="M1342,269.5 Q1350,279.5 1361.5,283.1" fill="none" stroke="#000" stroke-width="1.2" stroke-linejoin="round" />
<path d="M1301.21,249.93 L1330.49,177.81 L1342.01,176.62 L1342.01,270.86 L1301.21,327.05 Z" fill="#fff" stroke="#000" stroke-width="2.6" stroke-linejoin="round" />
<path d="M1204.64,120.39 L1303.4,169.7 L1330.49,177.81 L1342.01,176.62 L1243.25,127.31 L1211.43,118.36 Z" fill="#fff" stroke="#000" stroke-width="2.6" stroke-linejoin="round" />
<path d="M1173.08,234.61 L1303.4,169.7 L1330.49,177.81 L1301.21,249.93 L1209.04,295.83 Z" fill="#fff" stroke="#000" stroke-width="2.6" stroke-linejoin="round" />
<path d="M1287.81,219.19 L1286.2,216.58 L1284.45,214.08 L1282.57,211.71 L1280.59,209.51 L1278.53,207.49 L1276.41,205.68 L1274.26,204.09 L1272.09,202.76 L1269.93,201.68 L1267.81,200.87 L1265.75,200.35 L1263.77,200.11 L1261.89,200.16 L1260.14,200.5 L1258.53,201.12 L1257.08,202.03 L1255.8,203.2 L1254.72,204.62 L1253.83,206.28 L1253.16,208.17 L1252.71,210.26 L1252.48,212.52 L1252.48,214.94 L1252.71,217.48 L1253.16,220.12 L1253.82,222.84 L1254.7,225.59 L1255.79,228.35 L1257.06,231.09 L1258.51,233.78 L1260.12,236.39 L1261.87,238.9 L1263.75,241.26 L1265.73,243.47 L1267.79,245.49 L1269.91,247.3 L1272.06,248.88 L1274.23,250.22 L1276.38,251.3 L1278.5,252.1 L1280.57,252.63 L1282.55,252.86 L1284.42,252.81 L1286.18,252.47 L1287.79,251.85 L1289.24,250.95 L1290.51,249.78 L1291.6,248.35 L1292.48,246.69 L1293.15,244.8 L1293.61,242.72 L1293.83,240.45 L1293.83,238.04 L1293.61,235.49 L1293.16,232.85 L1292.49,230.14 L1291.61,227.39 L1290.53,224.62 L1289.26,221.88 L1287.81,219.19 Z" fill="#fff" stroke="#000" stroke-width="2.6" stroke-linejoin="round" />
<path d="M1268.5,248 Q1278,244.5 1290.5,251.5" fill="none" stroke="#000" stroke-width="1.6" stroke-linejoin="round" />
<path d="M1272,251 Q1280,248.5 1288,254" fill="none" stroke="#000" stroke-width="1.1" stroke-linejoin="round" />
<path d="M1074.32,185.29 L1173.08,234.61 L1303.4,169.7 L1204.64,120.39 Z" fill="#fff" stroke="#000" stroke-width="2.6" stroke-linejoin="round" />
<ellipse cx="1188.14" cy="145.18" rx="20.4" ry="10.3" fill="#fff" stroke="#000" stroke-width="2.6" />
<ellipse cx="1221.82" cy="161.54" rx="35.7" ry="18" fill="#fff" stroke="#000" stroke-width="2.1" />
<path d="M1207.1,160.5 L1216.8,153.9 L1232.6,155.7 L1236.6,162.7 L1225.6,169.8 L1210.6,168 Z" fill="#fff" stroke="#000" stroke-width="2" stroke-linejoin="round" />
<line x1="1217.7" y1="154" x2="1217.7" y2="168.6" stroke="#000" stroke-width="1.9" />
<path d="M1232.6,155.7 L1236.6,162.7 L1234,163.9 L1231,156.3 Z" fill="#000" stroke="#000" stroke-width="1" stroke-linejoin="round" />
<path d="M1209.04,443.68 L1209.83,509.84 L1252.86,488.41 L1271,412.82 Z" fill="#fff" stroke="#000" stroke-width="2.6" stroke-linejoin="round" />
<path d="M1038.36,358.44 L1209.04,443.68 L1209.83,509.84 L1075.41,442.72 Z" fill="#fff" stroke="#000" stroke-width="2.6" stroke-linejoin="round" />
<path d="M1094.76,430.59 L1095.02,431.82 L1095.18,432.98 L1095.23,434.08 L1095.18,435.09 L1095.01,436.02 L1094.75,436.86 L1094.38,437.6 L1093.91,438.23 L1093.34,438.75 L1092.68,439.16 L1091.93,439.45 L1091.1,439.63 L1090.2,439.68 L1089.23,439.62 L1088.19,439.43 L1087.1,439.12 L1085.97,438.7 L1084.8,438.16 L1083.61,437.52 L1082.39,436.77 L1081.17,435.92 L1079.95,434.98 L1078.73,433.96 L1077.54,432.86 L1076.37,431.69 L1075.24,430.45 L1074.16,429.17 L1073.13,427.85 L1072.16,426.5 L1071.25,425.13 L1070.43,423.74 L1069.69,422.36 L1069.03,420.99 L1068.47,419.64 L1068,418.32 L1067.63,417.05 L1067.37,415.82 L1067.21,414.66 L1067.16,413.57 L1067.22,412.55 L1067.38,411.62 L1067.65,410.79 L1068.02,410.05 L1068.49,409.41 L1069.06,408.89 L1069.72,408.48 L1070.46,408.19 L1071.29,408.02 L1072.2,407.96 L1073.17,408.03 L1074.2,408.22 L1075.29,408.52 L1076.42,408.94 L1077.59,409.48 L1078.79,410.13 L1080,410.87 L1081.22,411.72 L1082.45,412.66 L1083.66,413.69 L1084.85,414.79 L1086.02,415.96 L1087.15,417.19 L1088.24,418.47 L1089.27,419.79 L1090.24,421.14 L1091.14,422.52 L1091.97,423.9 L1092.71,425.28 L1093.36,426.65 L1093.93,428 L1094.39,429.32 L1094.76,430.59 Z" fill="#fff" stroke="#000" stroke-width="2.4" stroke-linejoin="round" />
<path d="M1093.7,428.47 L1093.91,429.49 L1094.04,430.45 L1094.09,431.36 L1094.04,432.21 L1093.91,432.98 L1093.68,433.68 L1093.38,434.29 L1092.98,434.82 L1092.51,435.25 L1091.96,435.59 L1091.34,435.84 L1090.65,435.98 L1089.9,436.02 L1089.09,435.97 L1088.23,435.81 L1087.33,435.56 L1086.39,435.21 L1085.42,434.76 L1084.42,434.23 L1083.41,433.6 L1082.4,432.9 L1081.38,432.12 L1080.37,431.27 L1079.38,430.35 L1078.41,429.38 L1077.47,428.35 L1076.56,427.29 L1075.71,426.19 L1074.9,425.06 L1074.15,423.92 L1073.46,422.77 L1072.85,421.62 L1072.3,420.48 L1071.83,419.36 L1071.44,418.27 L1071.14,417.21 L1070.92,416.19 L1070.79,415.22 L1070.75,414.31 L1070.79,413.47 L1070.93,412.69 L1071.15,412 L1071.46,411.39 L1071.85,410.86 L1072.32,410.42 L1072.87,410.08 L1073.49,409.84 L1074.18,409.7 L1074.93,409.65 L1075.74,409.71 L1076.6,409.86 L1077.51,410.12 L1078.45,410.47 L1079.42,410.91 L1080.41,411.45 L1081.42,412.07 L1082.44,412.78 L1083.46,413.56 L1084.47,414.41 L1085.46,415.33 L1086.43,416.3 L1087.37,417.32 L1088.27,418.39 L1089.13,419.49 L1089.94,420.61 L1090.68,421.75 L1091.37,422.9 L1091.99,424.05 L1092.53,425.19 L1093,426.31 L1093.39,427.41 L1093.7,428.47 Z" fill="none" stroke="#000" stroke-width="1.2" stroke-linejoin="round" />
<path d="M1092.33,425.95 L1092.49,426.72 L1092.59,427.45 L1092.62,428.14 L1092.59,428.77 L1092.49,429.36 L1092.32,429.89 L1092.08,430.35 L1091.79,430.75 L1091.43,431.08 L1091.02,431.34 L1090.55,431.52 L1090.02,431.63 L1089.46,431.66 L1088.84,431.62 L1088.19,431.5 L1087.51,431.31 L1086.8,431.04 L1086.06,430.71 L1085.31,430.3 L1084.54,429.83 L1083.77,429.3 L1083.01,428.71 L1082.24,428.06 L1081.49,427.37 L1080.76,426.63 L1080.04,425.86 L1079.36,425.05 L1078.71,424.22 L1078.1,423.37 L1077.54,422.5 L1077.02,421.63 L1076.55,420.77 L1076.14,419.9 L1075.78,419.05 L1075.49,418.22 L1075.26,417.42 L1075.09,416.65 L1074.99,415.92 L1074.96,415.23 L1075,414.59 L1075.1,414.01 L1075.27,413.48 L1075.5,413.02 L1075.79,412.62 L1076.15,412.29 L1076.57,412.03 L1077.04,411.85 L1077.56,411.74 L1078.13,411.7 L1078.74,411.75 L1079.39,411.86 L1080.07,412.06 L1080.79,412.32 L1081.52,412.66 L1082.27,413.07 L1083.04,413.54 L1083.81,414.07 L1084.58,414.66 L1085.34,415.31 L1086.09,416 L1086.83,416.74 L1087.54,417.51 L1088.22,418.32 L1088.87,419.15 L1089.48,420 L1090.05,420.86 L1090.57,421.73 L1091.03,422.6 L1091.45,423.46 L1091.8,424.31 L1092.1,425.14 L1092.33,425.95 Z" fill="none" stroke="#000" stroke-width="2.3" stroke-linejoin="round" />
<path d="M1089.89,422.89 L1089.98,423.31 L1090.04,423.72 L1090.05,424.1 L1090.03,424.45 L1089.98,424.78 L1089.88,425.07 L1089.76,425.33 L1089.59,425.55 L1089.39,425.73 L1089.16,425.87 L1088.9,425.97 L1088.61,426.03 L1088.3,426.05 L1087.96,426.03 L1087.6,425.96 L1087.22,425.86 L1086.83,425.71 L1086.42,425.52 L1086,425.3 L1085.58,425.04 L1085.16,424.74 L1084.73,424.42 L1084.31,424.06 L1083.89,423.68 L1083.48,423.27 L1083.09,422.84 L1082.71,422.39 L1082.35,421.93 L1082.02,421.46 L1081.7,420.98 L1081.41,420.5 L1081.15,420.02 L1080.93,419.54 L1080.73,419.07 L1080.57,418.61 L1080.44,418.17 L1080.35,417.74 L1080.29,417.34 L1080.28,416.96 L1080.3,416.6 L1080.35,416.28 L1080.44,415.99 L1080.57,415.73 L1080.74,415.51 L1080.94,415.33 L1081.17,415.19 L1081.43,415.08 L1081.71,415.02 L1082.03,415 L1082.37,415.03 L1082.73,415.09 L1083.11,415.2 L1083.5,415.35 L1083.91,415.53 L1084.32,415.76 L1084.75,416.02 L1085.17,416.31 L1085.6,416.64 L1086.02,417 L1086.44,417.38 L1086.85,417.79 L1087.24,418.22 L1087.62,418.67 L1087.98,419.13 L1088.31,419.6 L1088.63,420.07 L1088.92,420.56 L1089.17,421.04 L1089.4,421.52 L1089.6,421.99 L1089.76,422.44 L1089.89,422.89 Z" fill="none" stroke="#000" stroke-width="1.7" stroke-linejoin="round" />
<path d="M1205.1,485.69 L1205.36,486.92 L1205.52,488.08 L1205.57,489.17 L1205.51,490.19 L1205.35,491.12 L1205.08,491.95 L1204.71,492.69 L1204.24,493.33 L1203.68,493.85 L1203.02,494.26 L1202.27,494.55 L1201.44,494.73 L1200.54,494.78 L1199.56,494.71 L1198.53,494.52 L1197.44,494.22 L1196.31,493.8 L1195.14,493.26 L1193.95,492.62 L1192.73,491.87 L1191.51,491.02 L1190.29,490.08 L1189.07,489.05 L1187.88,487.95 L1186.71,486.78 L1185.58,485.55 L1184.49,484.27 L1183.46,482.95 L1182.49,481.6 L1181.59,480.22 L1180.77,478.84 L1180.02,477.46 L1179.37,476.09 L1178.8,474.74 L1178.34,473.42 L1177.97,472.15 L1177.71,470.92 L1177.55,469.76 L1177.5,468.66 L1177.56,467.65 L1177.72,466.72 L1177.98,465.88 L1178.35,465.14 L1178.83,464.51 L1179.39,463.99 L1180.05,463.58 L1180.8,463.29 L1181.63,463.11 L1182.53,463.06 L1183.51,463.13 L1184.54,463.31 L1185.63,463.62 L1186.76,464.04 L1187.93,464.58 L1189.12,465.22 L1190.34,465.97 L1191.56,466.82 L1192.78,467.76 L1194,468.78 L1195.19,469.88 L1196.36,471.06 L1197.49,472.29 L1198.57,473.57 L1199.61,474.89 L1200.58,476.24 L1201.48,477.61 L1202.3,479 L1203.05,480.38 L1203.7,481.75 L1204.27,483.1 L1204.73,484.42 L1205.1,485.69 Z" fill="#fff" stroke="#000" stroke-width="2.4" stroke-linejoin="round" />
<path d="M1204.03,483.57 L1204.25,484.58 L1204.38,485.55 L1204.42,486.46 L1204.38,487.3 L1204.24,488.08 L1204.02,488.77 L1203.71,489.39 L1203.32,489.91 L1202.85,490.35 L1202.3,490.69 L1201.68,490.93 L1200.99,491.08 L1200.24,491.12 L1199.43,491.07 L1198.57,490.91 L1197.67,490.66 L1196.73,490.3 L1195.75,489.86 L1194.76,489.32 L1193.75,488.7 L1192.73,487.99 L1191.72,487.21 L1190.71,486.36 L1189.71,485.45 L1188.74,484.47 L1187.8,483.45 L1186.9,482.38 L1186.04,481.29 L1185.24,480.16 L1184.49,479.02 L1183.8,477.87 L1183.18,476.72 L1182.64,475.58 L1182.17,474.46 L1181.78,473.36 L1181.48,472.3 L1181.26,471.28 L1181.13,470.32 L1181.09,469.41 L1181.13,468.56 L1181.27,467.79 L1181.49,467.09 L1181.8,466.48 L1182.19,465.96 L1182.66,465.52 L1183.21,465.18 L1183.83,464.94 L1184.52,464.79 L1185.27,464.75 L1186.08,464.8 L1186.94,464.96 L1187.84,465.21 L1188.78,465.56 L1189.76,466.01 L1190.75,466.55 L1191.76,467.17 L1192.78,467.87 L1193.79,468.65 L1194.8,469.51 L1195.8,470.42 L1196.77,471.4 L1197.71,472.42 L1198.61,473.48 L1199.47,474.58 L1200.27,475.71 L1201.02,476.85 L1201.71,478 L1202.33,479.15 L1202.87,480.29 L1203.34,481.41 L1203.73,482.5 L1204.03,483.57 Z" fill="none" stroke="#000" stroke-width="1.2" stroke-linejoin="round" />
<path d="M1202.66,481.04 L1202.83,481.81 L1202.93,482.54 L1202.96,483.23 L1202.92,483.87 L1202.82,484.46 L1202.65,484.98 L1202.42,485.45 L1202.13,485.84 L1201.77,486.17 L1201.35,486.43 L1200.88,486.62 L1200.36,486.73 L1199.79,486.76 L1199.18,486.72 L1198.53,486.6 L1197.85,486.41 L1197.13,486.14 L1196.4,485.8 L1195.65,485.4 L1194.88,484.93 L1194.11,484.39 L1193.34,483.8 L1192.58,483.16 L1191.83,482.46 L1191.09,481.73 L1190.38,480.95 L1189.7,480.15 L1189.05,479.32 L1188.44,478.46 L1187.87,477.6 L1187.35,476.73 L1186.89,475.86 L1186.47,475 L1186.12,474.15 L1185.82,473.32 L1185.59,472.52 L1185.43,471.75 L1185.33,471.02 L1185.3,470.33 L1185.33,469.69 L1185.43,469.1 L1185.6,468.58 L1185.84,468.11 L1186.13,467.71 L1186.49,467.39 L1186.9,467.13 L1187.37,466.94 L1187.9,466.83 L1188.46,466.8 L1189.08,466.84 L1189.73,466.96 L1190.41,467.15 L1191.12,467.42 L1191.86,467.76 L1192.61,468.16 L1193.38,468.63 L1194.15,469.17 L1194.91,469.76 L1195.68,470.4 L1196.43,471.1 L1197.16,471.83 L1197.88,472.61 L1198.56,473.41 L1199.21,474.24 L1199.82,475.09 L1200.38,475.96 L1200.9,476.83 L1201.37,477.7 L1201.78,478.56 L1202.14,479.41 L1202.43,480.24 L1202.66,481.04 Z" fill="none" stroke="#000" stroke-width="2.3" stroke-linejoin="round" />
<path d="M1200.23,477.98 L1200.32,478.41 L1200.37,478.82 L1200.39,479.2 L1200.37,479.55 L1200.31,479.87 L1200.22,480.17 L1200.09,480.42 L1199.93,480.64 L1199.73,480.83 L1199.5,480.97 L1199.24,481.07 L1198.95,481.13 L1198.64,481.15 L1198.3,481.13 L1197.94,481.06 L1197.56,480.95 L1197.17,480.81 L1196.76,480.62 L1196.34,480.4 L1195.92,480.14 L1195.49,479.84 L1195.07,479.51 L1194.64,479.16 L1194.23,478.77 L1193.82,478.36 L1193.43,477.94 L1193.05,477.49 L1192.69,477.03 L1192.35,476.56 L1192.04,476.08 L1191.75,475.6 L1191.49,475.12 L1191.26,474.64 L1191.07,474.17 L1190.91,473.71 L1190.78,473.27 L1190.69,472.84 L1190.63,472.43 L1190.61,472.05 L1190.63,471.7 L1190.69,471.38 L1190.78,471.08 L1190.91,470.83 L1191.08,470.61 L1191.27,470.43 L1191.5,470.28 L1191.76,470.18 L1192.05,470.12 L1192.37,470.1 L1192.71,470.12 L1193.07,470.19 L1193.44,470.3 L1193.84,470.44 L1194.25,470.63 L1194.66,470.85 L1195.09,471.12 L1195.51,471.41 L1195.94,471.74 L1196.36,472.1 L1196.78,472.48 L1197.18,472.89 L1197.58,473.32 L1197.95,473.76 L1198.31,474.22 L1198.65,474.69 L1198.97,475.17 L1199.25,475.65 L1199.51,476.13 L1199.74,476.61 L1199.94,477.08 L1200.1,477.54 L1200.23,477.98 Z" fill="none" stroke="#000" stroke-width="1.7" stroke-linejoin="round" />
<path d="M1038.36,358.44 L1209.04,443.68 L1209.04,295.83 L1173.08,234.61 L1074.32,185.29 L1038.36,210.6 Z" fill="#fff" stroke="#000" stroke-width="2.6" stroke-linejoin="round" />
<path d="M1171.25,390.19 L1174.14,388.83 L1176.91,387.25 L1179.58,385.46 L1182.12,383.46 L1184.54,381.25 L1186.83,378.85 L1188.98,376.25 L1191,373.46 L1192.86,370.49 L1194.58,367.34 L1196.15,364.02 L1197.56,360.53 L1198.81,356.9 L1199.9,353.11 L1200.83,349.19 L1201.59,345.13 L1202.18,340.95 L1202.61,336.66 L1202.86,332.26 L1202.95,327.77 L1202.86,323.2 L1202.61,318.54 L1202.18,313.83 L1201.59,309.06 L1200.83,304.24 L1199.9,299.39 L1198.81,294.52 L1197.56,289.63 L1196.15,284.74 L1194.58,279.85 L1192.86,274.99 L1191,270.15 L1188.98,265.35 L1186.83,260.6 L1184.54,255.91 L1182.12,251.29 L1179.58,246.75 L1176.91,242.29 L1174.14,237.94 L1171.25,233.69 L1076.15,186.21 L1073.26,187.57 L1070.49,189.15 L1067.82,190.94 L1065.28,192.94 L1062.86,195.15 L1060.57,197.55 L1058.42,200.15 L1056.4,202.94 L1054.54,205.91 L1052.82,209.06 L1051.25,212.38 L1049.84,215.87 L1048.59,219.5 L1047.5,223.29 L1046.57,227.21 L1045.81,231.27 L1045.22,235.45 L1044.79,239.74 L1044.54,244.14 L1044.45,248.63 L1044.54,253.2 L1044.79,257.86 L1045.22,262.57 L1045.81,267.34 L1046.57,272.16 L1047.5,277.01 L1048.59,281.88 L1049.84,286.77 L1051.25,291.66 L1052.82,296.55 L1054.54,301.41 L1056.4,306.25 L1058.42,311.05 L1060.57,315.8 L1062.86,320.49 L1065.28,325.11 L1067.82,329.65 L1070.49,334.11 L1073.26,338.46 L1076.15,342.71 Z" fill="#fff" stroke="#000" stroke-width="3.4" stroke-linejoin="round" />
<path d="M1168.81,391.41 L1171.69,390.05 L1174.47,388.47 L1177.14,386.68 L1179.68,384.68 L1182.1,382.47 L1184.39,380.06 L1186.54,377.46 L1188.55,374.68 L1190.42,371.7 L1192.14,368.55 L1193.71,365.23 L1195.12,361.75 L1196.37,358.11 L1197.46,354.33 L1198.39,350.4 L1199.15,346.35 L1199.74,342.17 L1200.17,337.88 L1200.42,333.48 L1200.51,328.99 L1200.42,324.41 L1200.17,319.76 L1199.74,315.04 L1199.15,310.27 L1198.39,305.46 L1197.46,300.61 L1196.37,295.73 L1195.12,290.84 L1193.71,285.95 L1192.14,281.07 L1190.42,276.2 L1188.55,271.36 L1186.54,266.56 L1184.39,261.82 L1182.1,257.12 L1179.68,252.5 L1177.14,247.96 L1174.47,243.51 L1171.69,239.16 L1168.81,234.91 L1073.71,187.42 L1070.82,188.79 L1068.04,190.36 L1065.38,192.16 L1062.83,194.16 L1060.42,196.36 L1058.13,198.77 L1055.98,201.37 L1053.96,204.16 L1052.1,207.13 L1050.38,210.28 L1048.81,213.6 L1047.4,217.08 L1046.15,220.72 L1045.06,224.5 L1044.13,228.43 L1043.37,232.49 L1042.78,236.66 L1042.35,240.96 L1042.1,245.35 L1042.01,249.84 L1042.1,254.42 L1042.35,259.07 L1042.78,263.79 L1043.37,268.56 L1044.13,273.38 L1045.06,278.23 L1046.15,283.1 L1047.4,287.99 L1048.81,292.88 L1050.38,297.76 L1052.1,302.63 L1053.96,307.47 L1055.98,312.27 L1058.13,317.02 L1060.42,321.71 L1062.83,326.33 L1065.38,330.87 L1068.04,335.32 L1070.82,339.68 L1073.71,343.92 Z" fill="#fff" stroke="#000" stroke-width="1.2" stroke-linejoin="round" />
<path d="M1061.65,193.43 L1156.75,240.91 L1171.25,233.69 L1076.15,186.21 Z" fill="#fff" stroke="#000" stroke-width="2.6" stroke-linejoin="round" />
<line x1="1074.32" y1="185.29" x2="1173.08" y2="234.61" stroke="#000" stroke-width="3.4" stroke-linecap="round"/>
<path d="M1156.75,397.41 L1159.64,396.05 L1162.42,394.47 L1165.08,392.68 L1167.63,390.68 L1170.05,388.47 L1172.33,386.07 L1174.49,383.47 L1176.5,380.68 L1178.37,377.71 L1180.08,374.56 L1181.65,371.24 L1183.06,367.75 L1184.31,364.12 L1185.4,360.33 L1186.33,356.41 L1187.09,352.35 L1187.69,348.17 L1188.11,343.88 L1188.37,339.48 L1188.45,334.99 L1188.37,330.42 L1188.11,325.76 L1187.69,321.05 L1187.09,316.28 L1186.33,311.46 L1185.4,306.61 L1184.31,301.74 L1183.06,296.85 L1181.65,291.96 L1180.08,287.07 L1178.37,282.21 L1176.5,277.37 L1174.49,272.57 L1172.33,267.82 L1170.05,263.13 L1167.63,258.51 L1165.08,253.97 L1162.42,249.51 L1159.64,245.16 L1156.75,240.91 L1061.65,193.43 L1058.77,194.79 L1055.99,196.37 L1053.32,198.16 L1050.78,200.16 L1048.36,202.37 L1046.07,204.77 L1043.92,207.37 L1041.91,210.16 L1040.04,213.13 L1038.32,216.28 L1036.75,219.6 L1035.34,223.09 L1034.09,226.72 L1033,230.51 L1032.07,234.43 L1031.31,238.49 L1030.72,242.67 L1030.3,246.96 L1030.04,251.36 L1029.95,255.85 L1030.04,260.42 L1030.3,265.08 L1030.72,269.79 L1031.31,274.56 L1032.07,279.38 L1033,284.23 L1034.09,289.1 L1035.34,293.99 L1036.75,298.88 L1038.32,303.77 L1040.04,308.63 L1041.91,313.47 L1043.92,318.27 L1046.07,323.02 L1048.36,327.71 L1050.78,332.33 L1053.32,336.87 L1055.99,341.33 L1058.77,345.68 L1061.65,349.93 Z" fill="#fff" stroke="#000" stroke-width="2.0" stroke-linejoin="round" />
<path d="M1157.21,319.39 L1156.95,313.07 L1156.16,306.55 L1154.86,299.91 L1153.06,293.22 L1150.78,286.55 L1148.04,279.99 L1144.88,273.59 L1141.33,267.43 L1137.42,261.57 L1133.21,256.09 L1128.73,251.04 L1124.04,246.48 L1119.18,242.45 L1114.22,239 L1109.2,236.17 L1104.19,233.99 L1099.22,232.48 L1094.37,231.66 L1089.68,231.54 L1085.2,232.12 L1080.99,233.39 L1077.08,235.35 L1073.53,237.96 L1070.37,241.2 L1067.63,245.03 L1065.35,249.42 L1063.55,254.31 L1062.25,259.65 L1061.46,265.39 L1061.2,271.45 L1061.46,277.77 L1062.25,284.29 L1063.55,290.93 L1065.35,297.62 L1067.63,304.29 L1070.37,310.85 L1073.53,317.25 L1077.08,323.41 L1080.99,329.27 L1085.2,334.75 L1089.68,339.8 L1094.37,344.36 L1099.22,348.39 L1104.19,351.84 L1109.2,354.67 L1114.22,356.85 L1119.18,358.36 L1124.04,359.18 L1128.73,359.3 L1133.21,358.72 L1137.42,357.45 L1141.33,355.49 L1144.88,352.88 L1148.04,349.64 L1150.78,345.81 L1153.06,341.42 L1154.86,336.53 L1156.16,331.19 L1156.95,325.45 Z" fill="none" stroke="#000" stroke-width="2.3" stroke-linejoin="round" />
<path d="M1146.24,313.91 L1146.07,310.65 L1145.58,307.28 L1144.79,303.85 L1143.72,300.44 L1142.41,297.08 L1140.89,293.83 L1139.21,290.71 L1137.43,287.75 L1135.56,284.94 L1133.67,282.3 L1131.76,279.8 L1129.87,277.41 L1128,275.11 L1126.15,272.87 L1124.32,270.65 L1122.49,268.43 L1120.64,266.19 L1118.75,263.93 L1116.79,261.65 L1114.75,259.37 L1112.61,257.12 L1110.36,254.95 L1108.02,252.9 L1105.58,251.03 L1103.07,249.41 L1100.52,248.08 L1097.96,247.1 L1095.44,246.5 L1093,246.33 L1090.69,246.59 L1088.54,247.28 L1086.58,248.39 L1084.86,249.89 L1083.37,251.73 L1082.14,253.87 L1081.14,256.25 L1080.38,258.8 L1079.82,261.46 L1079.44,264.2 L1079.19,266.95 L1079.06,269.7 L1078.99,272.41 L1078.97,275.08 L1078.97,277.71 L1078.97,280.32 L1078.97,282.93 L1078.97,285.57 L1078.99,288.26 L1079.06,291.04 L1079.19,293.92 L1079.44,296.91 L1079.82,300.03 L1080.38,303.26 L1081.14,306.57 L1082.14,309.94 L1083.37,313.31 L1084.86,316.64 L1086.58,319.86 L1088.54,322.92 L1090.69,325.76 L1093,328.33 L1095.44,330.59 L1097.96,332.52 L1100.52,334.09 L1103.07,335.3 L1105.58,336.18 L1108.02,336.75 L1110.36,337.05 L1112.61,337.12 L1114.75,337.01 L1116.79,336.77 L1118.75,336.44 L1120.64,336.07 L1122.49,335.68 L1124.32,335.29 L1126.15,334.9 L1128,334.5 L1129.87,334.07 L1131.76,333.57 L1133.67,332.97 L1135.56,332.22 L1137.43,331.28 L1139.21,330.1 L1140.89,328.65 L1142.41,326.92 L1143.72,324.87 L1144.79,322.53 L1145.58,319.9 L1146.07,317.01 Z" fill="#fff" stroke="#000" stroke-width="2.3" stroke-linejoin="round" />
<defs><clipPath id="triclip"><path d="M1146.24,313.91 L1146.07,310.65 L1145.58,307.28 L1144.79,303.85 L1143.72,300.44 L1142.41,297.08 L1140.89,293.83 L1139.21,290.71 L1137.43,287.75 L1135.56,284.94 L1133.67,282.3 L1131.76,279.8 L1129.87,277.41 L1128,275.11 L1126.15,272.87 L1124.32,270.65 L1122.49,268.43 L1120.64,266.19 L1118.75,263.93 L1116.79,261.65 L1114.75,259.37 L1112.61,257.12 L1110.36,254.95 L1108.02,252.9 L1105.58,251.03 L1103.07,249.41 L1100.52,248.08 L1097.96,247.1 L1095.44,246.5 L1093,246.33 L1090.69,246.59 L1088.54,247.28 L1086.58,248.39 L1084.86,249.89 L1083.37,251.73 L1082.14,253.87 L1081.14,256.25 L1080.38,258.8 L1079.82,261.46 L1079.44,264.2 L1079.19,266.95 L1079.06,269.7 L1078.99,272.41 L1078.97,275.08 L1078.97,277.71 L1078.97,280.32 L1078.97,282.93 L1078.97,285.57 L1078.99,288.26 L1079.06,291.04 L1079.19,293.92 L1079.44,296.91 L1079.82,300.03 L1080.38,303.26 L1081.14,306.57 L1082.14,309.94 L1083.37,313.31 L1084.86,316.64 L1086.58,319.86 L1088.54,322.92 L1090.69,325.76 L1093,328.33 L1095.44,330.59 L1097.96,332.52 L1100.52,334.09 L1103.07,335.3 L1105.58,336.18 L1108.02,336.75 L1110.36,337.05 L1112.61,337.12 L1114.75,337.01 L1116.79,336.77 L1118.75,336.44 L1120.64,336.07 L1122.49,335.68 L1124.32,335.29 L1126.15,334.9 L1128,334.5 L1129.87,334.07 L1131.76,333.57 L1133.67,332.97 L1135.56,332.22 L1137.43,331.28 L1139.21,330.1 L1140.89,328.65 L1142.41,326.92 L1143.72,324.87 L1144.79,322.53 L1145.58,319.9 L1146.07,317.01 Z"/></clipPath></defs>
<g clip-path="url(#triclip)">
<path d="M1187.44,293.39 L1187.27,290.13 L1186.79,286.76 L1185.99,283.33 L1184.92,279.92 L1183.61,276.56 L1182.09,273.31 L1180.42,270.19 L1178.63,267.23 L1176.77,264.42 L1174.87,261.78 L1172.96,259.28 L1171.07,256.89 L1169.2,254.59 L1167.35,252.35 L1165.52,250.13 L1163.69,247.91 L1161.84,245.67 L1159.95,243.41 L1157.99,241.13 L1155.95,238.85 L1153.81,236.6 L1151.57,234.43 L1149.22,232.38 L1146.78,230.51 L1144.27,228.89 L1141.72,227.56 L1139.16,226.58 L1136.64,225.98 L1134.2,225.81 L1131.89,226.07 L1129.74,226.76 L1127.79,227.87 L1126.06,229.37 L1124.57,231.21 L1123.34,233.35 L1122.34,235.73 L1121.58,238.28 L1121.02,240.94 L1120.64,243.68 L1120.4,246.43 L1120.26,249.18 L1120.19,251.89 L1120.17,254.56 L1120.17,257.19 L1120.17,259.8 L1120.17,262.41 L1120.17,265.05 L1120.19,267.74 L1120.26,270.52 L1120.4,273.4 L1120.64,276.39 L1121.02,279.51 L1121.58,282.74 L1122.34,286.05 L1123.34,289.42 L1124.57,292.79 L1126.06,296.12 L1127.79,299.34 L1129.74,302.4 L1131.89,305.24 L1134.2,307.81 L1136.64,310.07 L1139.16,312 L1141.72,313.57 L1144.27,314.78 L1146.78,315.66 L1149.22,316.23 L1151.57,316.53 L1153.81,316.6 L1155.95,316.49 L1157.99,316.25 L1159.95,315.92 L1161.84,315.55 L1163.69,315.16 L1165.52,314.77 L1167.35,314.38 L1169.2,313.98 L1171.07,313.55 L1172.96,313.05 L1174.87,312.45 L1176.77,311.7 L1178.63,310.76 L1180.42,309.58 L1182.09,308.13 L1183.61,306.4 L1184.92,304.35 L1185.99,302.01 L1186.79,299.38 L1187.27,296.49 Z" fill="none" stroke="#000" stroke-width="3.4" stroke-linejoin="round" />
<path d="M1180.57,296.81 L1180.41,293.55 L1179.92,290.18 L1179.13,286.75 L1178.06,283.34 L1176.74,279.98 L1175.22,276.73 L1173.55,273.61 L1171.76,270.65 L1169.9,267.84 L1168,265.2 L1166.1,262.7 L1164.2,260.31 L1162.33,258.01 L1160.49,255.77 L1158.66,253.55 L1156.83,251.33 L1154.97,249.09 L1153.08,246.83 L1151.12,244.55 L1149.08,242.27 L1146.94,240.02 L1144.7,237.85 L1142.35,235.8 L1139.91,233.93 L1137.4,232.31 L1134.85,230.98 L1132.29,230 L1129.78,229.4 L1127.34,229.23 L1125.02,229.49 L1122.87,230.18 L1120.92,231.29 L1119.19,232.79 L1117.71,234.63 L1116.47,236.77 L1115.48,239.15 L1114.71,241.7 L1114.15,244.36 L1113.77,247.1 L1113.53,249.85 L1113.39,252.6 L1113.33,255.31 L1113.31,257.98 L1113.3,260.61 L1113.3,263.22 L1113.3,265.83 L1113.31,268.47 L1113.33,271.16 L1113.39,273.94 L1113.53,276.82 L1113.77,279.81 L1114.15,282.93 L1114.71,286.16 L1115.48,289.47 L1116.47,292.84 L1117.71,296.21 L1119.19,299.54 L1120.92,302.76 L1122.87,305.82 L1125.02,308.66 L1127.34,311.23 L1129.78,313.49 L1132.29,315.42 L1134.85,316.99 L1137.4,318.2 L1139.91,319.08 L1142.35,319.65 L1144.7,319.95 L1146.94,320.02 L1149.08,319.91 L1151.12,319.67 L1153.08,319.34 L1154.97,318.97 L1156.83,318.58 L1158.66,318.19 L1160.49,317.8 L1162.33,317.4 L1164.2,316.97 L1166.1,316.47 L1168,315.87 L1169.9,315.12 L1171.76,314.18 L1173.55,313 L1175.22,311.55 L1176.74,309.82 L1178.06,307.77 L1179.13,305.43 L1179.92,302.8 L1180.41,299.91 Z" fill="none" stroke="#000" stroke-width="1.3" stroke-linejoin="round" />
<line x1="1081" y1="312.8" x2="1124.6" y2="293.4" stroke="#000" stroke-width="2" />
<line x1="1097" y1="334.3" x2="1143" y2="312.7" stroke="#000" stroke-width="2" />
</g>
<path d="M1146.24,313.91 L1146.07,310.65 L1145.58,307.28 L1144.79,303.85 L1143.72,300.44 L1142.41,297.08 L1140.89,293.83 L1139.21,290.71 L1137.43,287.75 L1135.56,284.94 L1133.67,282.3 L1131.76,279.8 L1129.87,277.41 L1128,275.11 L1126.15,272.87 L1124.32,270.65 L1122.49,268.43 L1120.64,266.19 L1118.75,263.93 L1116.79,261.65 L1114.75,259.37 L1112.61,257.12 L1110.36,254.95 L1108.02,252.9 L1105.58,251.03 L1103.07,249.41 L1100.52,248.08 L1097.96,247.1 L1095.44,246.5 L1093,246.33 L1090.69,246.59 L1088.54,247.28 L1086.58,248.39 L1084.86,249.89 L1083.37,251.73 L1082.14,253.87 L1081.14,256.25 L1080.38,258.8 L1079.82,261.46 L1079.44,264.2 L1079.19,266.95 L1079.06,269.7 L1078.99,272.41 L1078.97,275.08 L1078.97,277.71 L1078.97,280.32 L1078.97,282.93 L1078.97,285.57 L1078.99,288.26 L1079.06,291.04 L1079.19,293.92 L1079.44,296.91 L1079.82,300.03 L1080.38,303.26 L1081.14,306.57 L1082.14,309.94 L1083.37,313.31 L1084.86,316.64 L1086.58,319.86 L1088.54,322.92 L1090.69,325.76 L1093,328.33 L1095.44,330.59 L1097.96,332.52 L1100.52,334.09 L1103.07,335.3 L1105.58,336.18 L1108.02,336.75 L1110.36,337.05 L1112.61,337.12 L1114.75,337.01 L1116.79,336.77 L1118.75,336.44 L1120.64,336.07 L1122.49,335.68 L1124.32,335.29 L1126.15,334.9 L1128,334.5 L1129.87,334.07 L1131.76,333.57 L1133.67,332.97 L1135.56,332.22 L1137.43,331.28 L1139.21,330.1 L1140.89,328.65 L1142.41,326.92 L1143.72,324.87 L1144.79,322.53 L1145.58,319.9 L1146.07,317.01 Z" fill="none" stroke="#000" stroke-width="2.3" stroke-linejoin="round" />
<path d="M1075.9,335.22 L1075.83,333.57 L1075.63,331.86 L1075.29,330.12 L1074.82,328.37 L1074.22,326.62 L1073.5,324.9 L1072.67,323.23 L1071.74,321.61 L1070.72,320.08 L1069.62,318.64 L1068.44,317.32 L1067.22,316.13 L1065.94,315.07 L1064.64,314.17 L1063.33,313.43 L1062.02,312.85 L1060.72,312.46 L1059.45,312.25 L1058.22,312.21 L1057.04,312.37 L1055.94,312.7 L1054.92,313.21 L1053.99,313.89 L1053.16,314.74 L1052.44,315.75 L1051.84,316.9 L1051.37,318.18 L1051.03,319.58 L1050.83,321.08 L1050.76,322.67 L1050.83,324.32 L1051.03,326.03 L1051.37,327.77 L1051.84,329.52 L1052.44,331.27 L1053.16,332.99 L1053.99,334.66 L1054.92,336.28 L1055.94,337.81 L1057.04,339.24 L1058.22,340.57 L1059.45,341.76 L1060.72,342.82 L1062.02,343.72 L1063.33,344.46 L1064.64,345.03 L1065.94,345.43 L1067.22,345.64 L1068.44,345.67 L1069.62,345.52 L1070.72,345.19 L1071.74,344.68 L1072.67,343.99 L1073.5,343.14 L1074.22,342.14 L1074.82,340.99 L1075.29,339.71 L1075.63,338.31 L1075.83,336.81 Z" fill="none" stroke="#000" stroke-width="2.3" stroke-linejoin="round" />
<path d="M1067.29,330.92 L1067.27,330.4 L1067.21,329.86 L1067.1,329.31 L1066.95,328.76 L1066.76,328.21 L1066.54,327.67 L1066.28,327.14 L1065.98,326.63 L1065.66,326.15 L1065.31,325.7 L1064.94,325.28 L1064.56,324.9 L1064.15,324.57 L1063.74,324.29 L1063.33,324.05 L1062.92,323.87 L1062.51,323.75 L1062.11,323.68 L1061.72,323.67 L1061.35,323.72 L1061,323.82 L1060.68,323.99 L1060.39,324.2 L1060.12,324.47 L1059.9,324.79 L1059.71,325.15 L1059.56,325.55 L1059.45,325.99 L1059.39,326.46 L1059.37,326.97 L1059.39,327.49 L1059.45,328.03 L1059.56,328.57 L1059.71,329.13 L1059.9,329.68 L1060.12,330.22 L1060.39,330.75 L1060.68,331.25 L1061,331.74 L1061.35,332.19 L1061.72,332.61 L1062.11,332.98 L1062.51,333.32 L1062.92,333.6 L1063.33,333.83 L1063.74,334.01 L1064.15,334.14 L1064.56,334.21 L1064.94,334.22 L1065.31,334.17 L1065.66,334.06 L1065.98,333.9 L1066.28,333.69 L1066.54,333.42 L1066.76,333.1 L1066.95,332.74 L1067.1,332.34 L1067.21,331.9 L1067.27,331.42 Z" fill="none" stroke="#000" stroke-width="1.5" stroke-linejoin="round" />
<path d="M1075.9,222.36 L1075.83,220.71 L1075.63,219 L1075.29,217.26 L1074.82,215.51 L1074.22,213.76 L1073.5,212.04 L1072.67,210.37 L1071.74,208.75 L1070.72,207.22 L1069.62,205.78 L1068.44,204.46 L1067.22,203.27 L1065.94,202.21 L1064.64,201.31 L1063.33,200.57 L1062.02,199.99 L1060.72,199.6 L1059.45,199.39 L1058.22,199.35 L1057.04,199.51 L1055.94,199.84 L1054.92,200.35 L1053.99,201.03 L1053.16,201.88 L1052.44,202.89 L1051.84,204.04 L1051.37,205.32 L1051.03,206.72 L1050.83,208.22 L1050.76,209.81 L1050.83,211.46 L1051.03,213.17 L1051.37,214.91 L1051.84,216.66 L1052.44,218.41 L1053.16,220.13 L1053.99,221.8 L1054.92,223.42 L1055.94,224.95 L1057.04,226.38 L1058.22,227.71 L1059.45,228.9 L1060.72,229.96 L1062.02,230.86 L1063.33,231.6 L1064.64,232.17 L1065.94,232.57 L1067.22,232.78 L1068.44,232.81 L1069.62,232.66 L1070.72,232.33 L1071.74,231.82 L1072.67,231.13 L1073.5,230.28 L1074.22,229.28 L1074.82,228.13 L1075.29,226.85 L1075.63,225.45 L1075.83,223.95 Z" fill="none" stroke="#000" stroke-width="2.3" stroke-linejoin="round" />
<path d="M1067.29,218.06 L1067.27,217.54 L1067.21,217 L1067.1,216.45 L1066.95,215.9 L1066.76,215.35 L1066.54,214.81 L1066.28,214.28 L1065.98,213.77 L1065.66,213.29 L1065.31,212.84 L1064.94,212.42 L1064.56,212.04 L1064.15,211.71 L1063.74,211.43 L1063.33,211.19 L1062.92,211.01 L1062.51,210.89 L1062.11,210.82 L1061.72,210.81 L1061.35,210.86 L1061,210.96 L1060.68,211.13 L1060.39,211.34 L1060.12,211.61 L1059.9,211.93 L1059.71,212.29 L1059.56,212.69 L1059.45,213.13 L1059.39,213.6 L1059.37,214.11 L1059.39,214.63 L1059.45,215.17 L1059.56,215.71 L1059.71,216.27 L1059.9,216.82 L1060.12,217.36 L1060.39,217.89 L1060.68,218.39 L1061,218.88 L1061.35,219.33 L1061.72,219.75 L1062.11,220.12 L1062.51,220.46 L1062.92,220.74 L1063.33,220.97 L1063.74,221.15 L1064.15,221.28 L1064.56,221.35 L1064.94,221.36 L1065.31,221.31 L1065.66,221.2 L1065.98,221.04 L1066.28,220.83 L1066.54,220.56 L1066.76,220.24 L1066.95,219.88 L1067.1,219.48 L1067.21,219.04 L1067.27,218.56 Z" fill="none" stroke="#000" stroke-width="1.5" stroke-linejoin="round" />
<path d="M1167.65,381.03 L1167.58,379.38 L1167.37,377.67 L1167.03,375.93 L1166.56,374.18 L1165.96,372.43 L1165.25,370.71 L1164.42,369.04 L1163.49,367.42 L1162.47,365.89 L1161.36,364.46 L1160.19,363.13 L1158.96,361.94 L1157.69,360.88 L1156.39,359.98 L1155.08,359.24 L1153.76,358.67 L1152.46,358.27 L1151.19,358.06 L1149.96,358.03 L1148.79,358.18 L1147.69,358.51 L1146.66,359.02 L1145.73,359.71 L1144.9,360.56 L1144.19,361.56 L1143.59,362.71 L1143.12,363.99 L1142.78,365.39 L1142.57,366.89 L1142.5,368.48 L1142.57,370.13 L1142.78,371.84 L1143.12,373.58 L1143.59,375.33 L1144.19,377.08 L1144.9,378.8 L1145.73,380.47 L1146.66,382.09 L1147.69,383.62 L1148.79,385.06 L1149.96,386.38 L1151.19,387.57 L1152.46,388.63 L1153.76,389.53 L1155.08,390.27 L1156.39,390.85 L1157.69,391.24 L1158.96,391.45 L1160.19,391.49 L1161.36,391.33 L1162.47,391 L1163.49,390.49 L1164.42,389.81 L1165.25,388.96 L1165.96,387.95 L1166.56,386.8 L1167.03,385.52 L1167.37,384.12 L1167.58,382.62 Z" fill="none" stroke="#000" stroke-width="2.3" stroke-linejoin="round" />
<path d="M1159.04,376.73 L1159.02,376.21 L1158.95,375.67 L1158.84,375.13 L1158.7,374.57 L1158.51,374.02 L1158.28,373.48 L1158.02,372.95 L1157.73,372.45 L1157.4,371.96 L1157.06,371.51 L1156.69,371.09 L1156.3,370.72 L1155.9,370.38 L1155.49,370.1 L1155.08,369.87 L1154.66,369.69 L1154.25,369.56 L1153.85,369.49 L1153.46,369.48 L1153.09,369.53 L1152.75,369.64 L1152.42,369.8 L1152.13,370.01 L1151.87,370.28 L1151.64,370.6 L1151.46,370.96 L1151.31,371.36 L1151.2,371.8 L1151.13,372.28 L1151.11,372.78 L1151.13,373.3 L1151.2,373.84 L1151.31,374.39 L1151.46,374.94 L1151.64,375.49 L1151.87,376.03 L1152.13,376.56 L1152.42,377.07 L1152.75,377.55 L1153.09,378 L1153.46,378.42 L1153.85,378.8 L1154.25,379.13 L1154.66,379.41 L1155.08,379.65 L1155.49,379.83 L1155.9,379.95 L1156.3,380.02 L1156.69,380.03 L1157.06,379.98 L1157.4,379.88 L1157.73,379.71 L1158.02,379.5 L1158.28,379.23 L1158.51,378.91 L1158.7,378.55 L1158.84,378.15 L1158.95,377.71 L1159.02,377.24 Z" fill="none" stroke="#000" stroke-width="1.5" stroke-linejoin="round" />
<path d="M1167.65,268.17 L1167.58,266.52 L1167.37,264.81 L1167.03,263.07 L1166.56,261.32 L1165.96,259.57 L1165.25,257.85 L1164.42,256.18 L1163.49,254.56 L1162.47,253.03 L1161.36,251.6 L1160.19,250.27 L1158.96,249.08 L1157.69,248.02 L1156.39,247.12 L1155.08,246.38 L1153.76,245.81 L1152.46,245.41 L1151.19,245.2 L1149.96,245.17 L1148.79,245.32 L1147.69,245.65 L1146.66,246.16 L1145.73,246.85 L1144.9,247.7 L1144.19,248.7 L1143.59,249.85 L1143.12,251.13 L1142.78,252.53 L1142.57,254.03 L1142.5,255.62 L1142.57,257.27 L1142.78,258.98 L1143.12,260.72 L1143.59,262.47 L1144.19,264.22 L1144.9,265.94 L1145.73,267.61 L1146.66,269.23 L1147.69,270.76 L1148.79,272.2 L1149.96,273.52 L1151.19,274.71 L1152.46,275.77 L1153.76,276.67 L1155.08,277.41 L1156.39,277.99 L1157.69,278.38 L1158.96,278.59 L1160.19,278.63 L1161.36,278.47 L1162.47,278.14 L1163.49,277.63 L1164.42,276.95 L1165.25,276.1 L1165.96,275.09 L1166.56,273.94 L1167.03,272.66 L1167.37,271.26 L1167.58,269.76 Z" fill="none" stroke="#000" stroke-width="2.3" stroke-linejoin="round" />
<path d="M1159.04,263.87 L1159.02,263.35 L1158.95,262.81 L1158.84,262.27 L1158.7,261.71 L1158.51,261.16 L1158.28,260.62 L1158.02,260.09 L1157.73,259.59 L1157.4,259.1 L1157.06,258.65 L1156.69,258.23 L1156.3,257.86 L1155.9,257.52 L1155.49,257.24 L1155.08,257.01 L1154.66,256.83 L1154.25,256.7 L1153.85,256.63 L1153.46,256.62 L1153.09,256.67 L1152.75,256.78 L1152.42,256.94 L1152.13,257.15 L1151.87,257.42 L1151.64,257.74 L1151.46,258.1 L1151.31,258.5 L1151.2,258.94 L1151.13,259.42 L1151.11,259.92 L1151.13,260.44 L1151.2,260.98 L1151.31,261.53 L1151.46,262.08 L1151.64,262.63 L1151.87,263.17 L1152.13,263.7 L1152.42,264.21 L1152.75,264.69 L1153.09,265.14 L1153.46,265.56 L1153.85,265.94 L1154.25,266.27 L1154.66,266.55 L1155.08,266.79 L1155.49,266.97 L1155.9,267.09 L1156.3,267.16 L1156.69,267.17 L1157.06,267.12 L1157.4,267.02 L1157.73,266.85 L1158.02,266.64 L1158.28,266.37 L1158.51,266.05 L1158.7,265.69 L1158.84,265.29 L1158.95,264.85 L1159.02,264.38 Z" fill="none" stroke="#000" stroke-width="1.5" stroke-linejoin="round" />
<path d="M1051.14,266.43 L1051.09,265.2 L1050.94,263.94 L1050.68,262.65 L1050.33,261.36 L1049.89,260.07 L1049.36,258.8 L1048.75,257.56 L1048.06,256.36 L1047.31,255.23 L1046.49,254.17 L1045.62,253.19 L1044.71,252.31 L1043.78,251.53 L1042.81,250.86 L1041.84,250.31 L1040.87,249.89 L1039.91,249.6 L1038.97,249.44 L1038.06,249.41 L1037.19,249.53 L1036.38,249.77 L1035.62,250.15 L1034.93,250.66 L1034.32,251.28 L1033.79,252.03 L1033.35,252.88 L1033,253.82 L1032.75,254.86 L1032.6,255.97 L1032.55,257.14 L1032.6,258.37 L1032.75,259.63 L1033,260.91 L1033.35,262.21 L1033.79,263.5 L1034.32,264.77 L1034.93,266.01 L1035.62,267.2 L1036.38,268.34 L1037.19,269.4 L1038.06,270.38 L1038.97,271.26 L1039.91,272.04 L1040.87,272.71 L1041.84,273.26 L1042.81,273.68 L1043.78,273.97 L1044.71,274.13 L1045.62,274.15 L1046.49,274.04 L1047.31,273.8 L1048.06,273.42 L1048.75,272.91 L1049.36,272.28 L1049.89,271.54 L1050.33,270.69 L1050.68,269.74 L1050.94,268.71 L1051.09,267.6 Z" fill="none" stroke="#000" stroke-width="1.8" stroke-linejoin="round" />
<path d="M1047.18,265.01 L1047.15,264.41 L1047.08,263.79 L1046.95,263.16 L1046.78,262.52 L1046.56,261.88 L1046.3,261.26 L1046,260.65 L1045.66,260.06 L1045.29,259.51 L1044.89,258.98 L1044.46,258.5 L1044.02,258.07 L1043.55,257.68 L1043.08,257.36 L1042.6,257.09 L1042.13,256.88 L1041.65,256.73 L1041.19,256.66 L1040.74,256.64 L1040.32,256.7 L1039.92,256.82 L1039.54,257.01 L1039.21,257.26 L1038.91,257.56 L1038.64,257.93 L1038.43,258.35 L1038.26,258.81 L1038.13,259.32 L1038.06,259.87 L1038.03,260.45 L1038.06,261.05 L1038.13,261.67 L1038.26,262.3 L1038.43,262.94 L1038.64,263.57 L1038.91,264.2 L1039.21,264.81 L1039.54,265.39 L1039.92,265.95 L1040.32,266.47 L1040.74,266.96 L1041.19,267.39 L1041.65,267.77 L1042.13,268.1 L1042.6,268.37 L1043.08,268.58 L1043.55,268.72 L1044.02,268.8 L1044.46,268.81 L1044.89,268.76 L1045.29,268.64 L1045.66,268.45 L1046,268.2 L1046.3,267.89 L1046.56,267.53 L1046.78,267.11 L1046.95,266.64 L1047.08,266.13 L1047.15,265.59 Z" fill="none" stroke="#000" stroke-width="3.2" stroke-linejoin="round" />
<path d="M1185.86,333.7 L1185.81,332.47 L1185.66,331.21 L1185.41,329.93 L1185.06,328.63 L1184.61,327.34 L1184.08,326.07 L1183.47,324.83 L1182.78,323.64 L1182.03,322.5 L1181.21,321.44 L1180.34,320.46 L1179.44,319.58 L1178.5,318.8 L1177.54,318.13 L1176.56,317.58 L1175.59,317.16 L1174.63,316.87 L1173.69,316.71 L1172.78,316.69 L1171.92,316.8 L1171.1,317.04 L1170.34,317.42 L1169.66,317.93 L1169.04,318.56 L1168.51,319.3 L1168.07,320.15 L1167.72,321.1 L1167.47,322.13 L1167.32,323.24 L1167.27,324.41 L1167.32,325.64 L1167.47,326.9 L1167.72,328.19 L1168.07,329.48 L1168.51,330.77 L1169.04,332.04 L1169.66,333.28 L1170.34,334.48 L1171.1,335.61 L1171.92,336.67 L1172.78,337.65 L1173.69,338.53 L1174.63,339.31 L1175.59,339.98 L1176.56,340.53 L1177.54,340.95 L1178.5,341.24 L1179.44,341.4 L1180.34,341.43 L1181.21,341.31 L1182.03,341.07 L1182.78,340.69 L1183.47,340.18 L1184.08,339.56 L1184.61,338.81 L1185.06,337.96 L1185.41,337.02 L1185.66,335.98 L1185.81,334.87 Z" fill="none" stroke="#000" stroke-width="1.8" stroke-linejoin="round" />
<path d="M1181.9,332.28 L1181.87,331.68 L1181.8,331.06 L1181.67,330.43 L1181.5,329.79 L1181.29,329.16 L1181.02,328.53 L1180.72,327.92 L1180.39,327.34 L1180.01,326.78 L1179.61,326.26 L1179.19,325.77 L1178.74,325.34 L1178.28,324.96 L1177.8,324.63 L1177.33,324.36 L1176.85,324.15 L1176.38,324.01 L1175.91,323.93 L1175.47,323.92 L1175.04,323.97 L1174.64,324.09 L1174.27,324.28 L1173.93,324.53 L1173.63,324.84 L1173.37,325.2 L1173.15,325.62 L1172.98,326.09 L1172.85,326.59 L1172.78,327.14 L1172.75,327.72 L1172.78,328.32 L1172.85,328.94 L1172.98,329.57 L1173.15,330.21 L1173.37,330.85 L1173.63,331.47 L1173.93,332.08 L1174.27,332.67 L1174.64,333.22 L1175.04,333.75 L1175.47,334.23 L1175.91,334.66 L1176.38,335.05 L1176.85,335.37 L1177.33,335.64 L1177.8,335.85 L1178.28,336 L1178.74,336.07 L1179.19,336.08 L1179.61,336.03 L1180.01,335.91 L1180.39,335.72 L1180.72,335.47 L1181.02,335.16 L1181.29,334.8 L1181.5,334.38 L1181.67,333.92 L1181.8,333.41 L1181.87,332.86 Z" fill="none" stroke="#000" stroke-width="3.2" stroke-linejoin="round" />
<rect x="953.7" y="591.9" width="140.5" height="242.4" rx="0" fill="none" stroke="#000" stroke-width="2.2"/>
<line x1="953.7" y1="713.1" x2="1094.2" y2="713.1" stroke="#000" stroke-width="2.2" />
<text transform="translate(958.94 604.2) scale(0.7600 1)" font-family="'Liberation Sans', sans-serif" font-size="11.77" font-weight="bold" letter-spacing="0.89" word-spacing="3.53" fill="#000" xml:space="preserve">VERSIONE DESTRA (RC)</text>
<text transform="translate(958.4 616.9) scale(0.7600 1)" font-family="'Liberation Sans', sans-serif" font-size="11.77" font-weight="bold" letter-spacing="1.13" word-spacing="3.53" fill="#000" xml:space="preserve">RIGHT VERSION (RC)</text>
<text transform="translate(958.4 629.3) scale(0.7600 1)" font-family="'Liberation Sans', sans-serif" font-size="11.77" font-weight="bold" letter-spacing="0.94" word-spacing="3.53" fill="#000" xml:space="preserve">RECHTE-VERSION (RC)</text>
<text transform="translate(957.84 727) scale(0.7600 1)" font-family="'Liberation Sans', sans-serif" font-size="11.77" font-weight="bold" letter-spacing="1.12" word-spacing="3.53" fill="#000" xml:space="preserve">VERSIONE SINISTRA (LC)</text>
<text transform="translate(957.3 739.4) scale(0.7600 1)" font-family="'Liberation Sans', sans-serif" font-size="11.77" font-weight="bold" letter-spacing="0.94" word-spacing="3.53" fill="#000" xml:space="preserve">LEFT VERSION (LC)</text>
<text transform="translate(957.3 751.8) scale(0.7600 1)" font-family="'Liberation Sans', sans-serif" font-size="11.77" font-weight="bold" letter-spacing="1.03" word-spacing="3.53" fill="#000" xml:space="preserve">LINKE-VERSION (LC)</text>
<circle cx="1022.5" cy="672.5" r="12.8" fill="none" stroke="#000" stroke-width="25.6" />
<path d="M1025.46,651.41 A21.3,21.3 0 0 1 1043.66,670.09" fill="none" stroke="#777" stroke-width="4.8" stroke-linejoin="round" />
<path d="M1041.8,681.5 A21.3,21.3 0 1 1 1012.17,653.87" fill="none" stroke="#777" stroke-width="4.8" stroke-linejoin="round" />
<path d="M1041.9,672.5 L1041.78,674.19 L1041.41,675.83 L1040.81,677.41 L1040.03,678.88 L1039.07,680.23 L1038,681.45 L1036.84,682.54 L1035.64,683.52 L1034.41,684.41 L1033.17,685.22 L1031.94,685.98 L1030.7,686.7 L1029.45,687.41 L1028.18,688.1 L1026.86,688.77 L1025.48,689.39 L1024.03,689.95 L1022.5,690.4 L1020.91,690.72 L1019.26,690.87 L1017.59,690.81 L1015.93,690.54 L1014.32,690.04 L1012.8,689.3 L1011.4,688.35 L1010.16,687.21 L1009.09,685.91 L1008.21,684.49 L1007.52,682.99 L1007,681.45 L1006.63,679.9 L1006.38,678.37 L1006.23,676.86 L1006.15,675.38 L1006.11,673.93 L1006.1,672.5 L1006.11,671.07 L1006.15,669.62 L1006.23,668.14 L1006.38,666.63 L1006.63,665.1 L1007,663.55 L1007.52,662.01 L1008.21,660.51 L1009.09,659.09 L1010.16,657.79 L1011.4,656.65 L1012.8,655.7 L1014.32,654.96 L1015.93,654.46 L1017.59,654.19 L1019.26,654.13 L1020.91,654.28 L1022.5,654.6 L1024.03,655.05 L1025.48,655.61 L1026.86,656.23 L1028.18,656.9 L1029.45,657.59 L1030.7,658.3 L1031.94,659.02 L1033.17,659.78 L1034.41,660.59 L1035.64,661.48 L1036.84,662.46 L1038,663.55 L1039.07,664.77 L1040.03,666.12 L1040.81,667.59 L1041.41,669.17 L1041.78,670.81 Z" fill="#fff" stroke="#000" stroke-width="2.3" stroke-linejoin="round" />
<circle cx="1022.5" cy="672.5" r="9.75" fill="#fff" stroke="#000" stroke-width="2.4" />
<line x1="990" y1="672.5" x2="994.1" y2="672.5" stroke="#000" stroke-width="0.9" />
<line x1="998.3" y1="672.5" x2="1016" y2="672.5" stroke="#000" stroke-width="0.9" />
<line x1="1021.1" y1="672.5" x2="1024.9" y2="672.5" stroke="#000" stroke-width="0.9" />
<line x1="1029.4" y1="672.5" x2="1041.1" y2="672.5" stroke="#000" stroke-width="0.9" />
<line x1="1051" y1="672.5" x2="1055" y2="672.5" stroke="#000" stroke-width="0.9" />
<line x1="1022.5" y1="636.7" x2="1022.5" y2="640.9" stroke="#000" stroke-width="0.9" />
<line x1="1022.5" y1="642.9" x2="1022.5" y2="646.7" stroke="#000" stroke-width="0.9" />
<line x1="1022.5" y1="647.6" x2="1022.5" y2="669.8" stroke="#000" stroke-width="0.9" />
<line x1="1022.5" y1="671.1" x2="1022.5" y2="674" stroke="#000" stroke-width="0.9" />
<line x1="1022.5" y1="678.7" x2="1022.5" y2="695.9" stroke="#000" stroke-width="0.9" />
<line x1="1022.5" y1="700.9" x2="1022.5" y2="705" stroke="#000" stroke-width="0.9" />
<circle cx="1022.1" cy="795.3" r="12.8" fill="none" stroke="#000" stroke-width="25.6" />
<path d="M1001.06,791.97 A21.3,21.3 0 0 1 1018.4,774.32" fill="none" stroke="#777" stroke-width="4.8" stroke-linejoin="round" />
<path d="M1042.93,799.73 A21.3,21.3 0 0 1 1016.95,815.97" fill="none" stroke="#777" stroke-width="4.8" stroke-linejoin="round" />
<path d="M1002.08,802.59 A21.3,21.3 0 0 1 1000.8,795.3" fill="none" stroke="#777" stroke-width="4.8" stroke-linejoin="round" />
<path d="M1038.5,795.3 L1038.49,796.73 L1038.45,798.18 L1038.37,799.66 L1038.22,801.17 L1037.97,802.7 L1037.6,804.25 L1037.08,805.79 L1036.39,807.29 L1035.51,808.71 L1034.44,810.01 L1033.2,811.15 L1031.8,812.1 L1030.28,812.84 L1028.67,813.34 L1027.01,813.61 L1025.34,813.67 L1023.69,813.52 L1022.1,813.2 L1020.57,812.75 L1019.12,812.19 L1017.74,811.57 L1016.42,810.9 L1015.15,810.21 L1013.9,809.5 L1012.66,808.78 L1011.43,808.02 L1010.19,807.21 L1008.96,806.32 L1007.76,805.34 L1006.6,804.25 L1005.53,803.03 L1004.57,801.68 L1003.79,800.21 L1003.19,798.63 L1002.82,796.99 L1002.7,795.3 L1002.82,793.61 L1003.19,791.97 L1003.79,790.39 L1004.57,788.92 L1005.53,787.57 L1006.6,786.35 L1007.76,785.26 L1008.96,784.28 L1010.19,783.39 L1011.43,782.58 L1012.66,781.82 L1013.9,781.1 L1015.15,780.39 L1016.42,779.7 L1017.74,779.03 L1019.12,778.41 L1020.57,777.85 L1022.1,777.4 L1023.69,777.08 L1025.34,776.93 L1027.01,776.99 L1028.67,777.26 L1030.28,777.76 L1031.8,778.5 L1033.2,779.45 L1034.44,780.59 L1035.51,781.89 L1036.39,783.31 L1037.08,784.81 L1037.6,786.35 L1037.97,787.9 L1038.22,789.43 L1038.37,790.94 L1038.45,792.42 L1038.49,793.87 Z" fill="#fff" stroke="#000" stroke-width="2.3" stroke-linejoin="round" />
<circle cx="1022.1" cy="795.3" r="9.75" fill="#fff" stroke="#000" stroke-width="2.4" />
<line x1="989.6" y1="795.3" x2="993.7" y2="795.3" stroke="#000" stroke-width="0.9" />
<line x1="997.9" y1="795.3" x2="1015.6" y2="795.3" stroke="#000" stroke-width="0.9" />
<line x1="1020.7" y1="795.3" x2="1024.5" y2="795.3" stroke="#000" stroke-width="0.9" />
<line x1="1029" y1="795.3" x2="1040.7" y2="795.3" stroke="#000" stroke-width="0.9" />
<line x1="1050.6" y1="795.3" x2="1054.6" y2="795.3" stroke="#000" stroke-width="0.9" />
<line x1="1022.1" y1="759.5" x2="1022.1" y2="763.7" stroke="#000" stroke-width="0.9" />
<line x1="1022.1" y1="765.7" x2="1022.1" y2="769.5" stroke="#000" stroke-width="0.9" />
<line x1="1022.1" y1="770.4" x2="1022.1" y2="792.6" stroke="#000" stroke-width="0.9" />
<line x1="1022.1" y1="793.9" x2="1022.1" y2="796.8" stroke="#000" stroke-width="0.9" />
<line x1="1022.1" y1="801.5" x2="1022.1" y2="818.7" stroke="#000" stroke-width="0.9" />
<line x1="1022.1" y1="823.7" x2="1022.1" y2="827.8" stroke="#000" stroke-width="0.9" />
<text transform="translate(1099.61 620.6) scale(0.7504 1)" font-family="'Liberation Sans', sans-serif" font-size="19.77" font-weight="bold" letter-spacing="0" word-spacing="8.3" fill="#000" stroke="#000" stroke-width="1.1" xml:space="preserve">PER ORDINARE LA VERSIONE SX</text>
<text transform="translate(1100.23 641) scale(0.7510 1)" font-family="'Liberation Sans', sans-serif" font-size="19.77" font-weight="bold" letter-spacing="0" word-spacing="8.3" fill="#000" stroke="#000" stroke-width="1.1" xml:space="preserve">AGGIUNGERE "LC" AL CODICE IN TABELLA.</text>
<text transform="translate(1099.59 660.9) scale(0.7617 1)" font-family="'Liberation Sans', sans-serif" font-size="19.77" font-weight="bold" letter-spacing="0" word-spacing="8.3" fill="#000" stroke="#000" stroke-width="1.1" xml:space="preserve">ES: DW00516010 DIVENTA DW00516010LC</text>
<text transform="translate(1100.43 701.6) scale(0.7565 1)" font-family="'Liberation Sans', sans-serif" font-size="19.77" font-weight="bold" letter-spacing="0" word-spacing="8.3" fill="#000" stroke="#000" stroke-width="1.1" xml:space="preserve">TO ORDER LEFT VERSION</text>
<text transform="translate(1100.23 721.9) scale(0.7613 1)" font-family="'Liberation Sans', sans-serif" font-size="19.77" font-weight="bold" letter-spacing="0" word-spacing="8.3" fill="#000" stroke="#000" stroke-width="1.1" xml:space="preserve">ADD A "LC" IN THE CODE-CHARTS.</text>
<text transform="translate(1099.6 741.8) scale(0.7583 1)" font-family="'Liberation Sans', sans-serif" font-size="19.77" font-weight="bold" letter-spacing="0" word-spacing="8.3" fill="#000" stroke="#000" stroke-width="1.1" xml:space="preserve">EXAMPLE: DW00516010 BECOMES DW00516010LC</text>
<text transform="translate(1099.71 783.2) scale(0.7522 1)" font-family="'Liberation Sans', sans-serif" font-size="19.77" font-weight="bold" letter-spacing="0" word-spacing="8.3" fill="#000" stroke="#000" stroke-width="1.1" xml:space="preserve">UM DIE LINKE-VERSION ZU BESTELLEN, BEI DER</text>
<text transform="translate(1100.23 803.2) scale(0.7447 1)" font-family="'Liberation Sans', sans-serif" font-size="19.77" font-weight="bold" letter-spacing="0" word-spacing="8.3" fill="#000" stroke="#000" stroke-width="1.1" xml:space="preserve">ARTIKELBEZEICHNUNG "LC" HINZUFUEGEN.</text>
<text transform="translate(1099.61 822.8) scale(0.7515 1)" font-family="'Liberation Sans', sans-serif" font-size="19.77" font-weight="bold" letter-spacing="0" word-spacing="8.3" fill="#000" stroke="#000" stroke-width="1.1" xml:space="preserve">BEISPIEL: DW00516010 WIRD DANN DW00516010LC</text>
<rect x="1362.2" y="886" width="195" height="67.8" rx="12.5" fill="none" stroke="#000" stroke-width="1.7"/>
<ellipse cx="1374.8" cy="897" rx="6.4" ry="4.6" fill="#000" stroke="#000" stroke-width="0" transform="rotate(-40 1374.8 897)" />
<line x1="1370.6" y1="900.5" x2="1379" y2="893.5" stroke="#fff" stroke-width="1"/>
<ellipse cx="1544.1" cy="896.6" rx="6.4" ry="4.6" fill="#000" stroke="#000" stroke-width="0" transform="rotate(-40 1544.1 896.6)" />
<line x1="1539.9" y1="900.1" x2="1548.3" y2="893.1" stroke="#fff" stroke-width="1"/>
<ellipse cx="1374.8" cy="942.6" rx="6.4" ry="4.6" fill="#000" stroke="#000" stroke-width="0" transform="rotate(-40 1374.8 942.6)" />
<line x1="1370.6" y1="946.1" x2="1379" y2="939.1" stroke="#fff" stroke-width="1"/>
<ellipse cx="1544.1" cy="942" rx="6.4" ry="4.6" fill="#000" stroke="#000" stroke-width="0" transform="rotate(-40 1544.1 942)" />
<line x1="1539.9" y1="945.5" x2="1548.3" y2="938.5" stroke="#fff" stroke-width="1"/>
<text transform="translate(1422.94 934.3) scale(1.5332 1)" font-family="'Liberation Serif', serif" font-size="47.94" font-weight="bold" letter-spacing="0" word-spacing="14.38" fill="#000" stroke="#000" stroke-width="2.6" xml:space="preserve">M</text>
<text transform="translate(1497.11 934.3) scale(1.1934 1)" font-family="'Liberation Serif', serif" font-size="47.94" font-weight="bold" letter-spacing="0" word-spacing="14.38" fill="#000" stroke="#000" stroke-width="2.6" xml:space="preserve">T</text>
<path d="M1381,905 L1385,897 L1399,892 L1411,890.5 L1418,893 L1419.5,903 L1419,921 L1413,927 L1399,931 L1387,925.5 L1380.5,918 Z" fill="#e4e4e4" stroke="#222" stroke-width="1.3" stroke-linejoin="round" />
<ellipse cx="1388.5" cy="910.5" rx="6.8" ry="10" fill="#c8c8c8" stroke="#222" stroke-width="1.4" transform="rotate(-8 1388.5 910.5)" />
<ellipse cx="1388.8" cy="910.5" rx="4.2" ry="6.4" fill="#fff" stroke="#222" stroke-width="1.6" transform="rotate(-8 1388.8 910.5)" />
<path d="M1385.5,907 L1391.5,906 L1392.5,914 L1386.5,915 Z" fill="#555" stroke="#222" stroke-width="1.2" stroke-linejoin="round" />
<ellipse cx="1410.5" cy="895.5" rx="6.2" ry="4.6" fill="#ddd" stroke="#222" stroke-width="1.8" transform="rotate(-25 1410.5 895.5)" />
<ellipse cx="1412.5" cy="893.8" rx="3.6" ry="2.6" fill="#fff" stroke="#222" stroke-width="1.4" transform="rotate(-25 1412.5 893.8)" />
<path d="M1398,903 L1416,897.5 L1418.5,920 L1401,925.5 Z" fill="#d8d8d8" stroke="#222" stroke-width="1.1" stroke-linejoin="round" />
<line x1="1398.5" y1="904" x2="1418" y2="919" stroke="#222" stroke-width="0.8" />
<line x1="1416" y1="898" x2="1401" y2="925" stroke="#222" stroke-width="0.8" />
<path d="M1381.5,918.5 L1399.5,929.5 L1419,921.5 L1419,925.5 L1400,934 L1381.5,922.5 Z" fill="#fff" stroke="#222" stroke-width="1.1" stroke-linejoin="round" />
<path d="M1390,929 L1406.5,930.5 L1405,939 L1391.5,938 Z" fill="#fff" stroke="#222" stroke-width="1.2" stroke-linejoin="round" />
<path d="M1393.5,938.5 L1402.5,939 L1401,946 L1394.5,947.5 Z" fill="#fff" stroke="#222" stroke-width="1.2" stroke-linejoin="round" />
<line x1="1394" y1="943.5" x2="1401.5" y2="942.5" stroke="#222" stroke-width="0.9" />
<circle cx="1384" cy="921.8" r="1.3" fill="#fff" stroke="#222" stroke-width="0.9" />
<circle cx="1409.5" cy="926.5" r="1.6" fill="#fff" stroke="#222" stroke-width="1" />
<circle cx="1415" cy="923.5" r="1.4" fill="#fff" stroke="#222" stroke-width="1" />
</g></svg></body></html>
